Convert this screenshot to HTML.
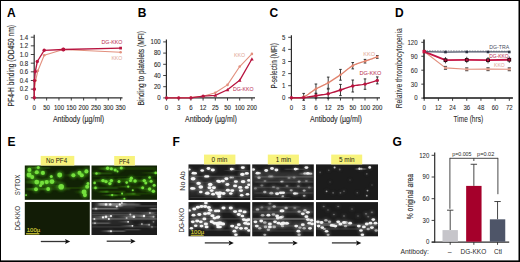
<!DOCTYPE html>
<html><head><meta charset="utf-8"><style>
html,body{margin:0;padding:0;background:#fff;}
body{width:520px;height:262px;overflow:hidden;}
svg{display:block;font-family:"Liberation Sans", sans-serif;}
</style></head><body>
<svg width="520" height="262" viewBox="0 0 520 262">
<rect x="0" y="0" width="520" height="262" fill="#fff"/>
<defs>
<filter id="b04" x="-50%" y="-50%" width="200%" height="200%"><feGaussianBlur stdDeviation="0.55"/></filter>
<filter id="b07" x="-50%" y="-50%" width="200%" height="200%"><feGaussianBlur stdDeviation="0.75"/></filter>
<filter id="b08" x="-50%" y="-50%" width="200%" height="200%"><feGaussianBlur stdDeviation="0.8"/></filter>
<filter id="b15" x="-50%" y="-50%" width="200%" height="200%"><feGaussianBlur stdDeviation="1.5"/></filter>
<linearGradient id="gG" x1="0" y1="0" x2="1" y2="0"><stop offset="0" stop-color="#3c8a16" stop-opacity="0"/><stop offset="0.7" stop-color="#3c8a16" stop-opacity="0.7"/><stop offset="1" stop-color="#58c828" stop-opacity="1"/></linearGradient>
<linearGradient id="gW" x1="0" y1="0" x2="1" y2="0"><stop offset="0" stop-color="#9a9a9a" stop-opacity="0"/><stop offset="0.7" stop-color="#a0a0a0" stop-opacity="0.75"/><stop offset="1" stop-color="#d8d8d8" stop-opacity="1"/></linearGradient>
<filter id="bh" x="-20%" y="-200%" width="140%" height="500%"><feGaussianBlur stdDeviation="1.2 0.5"/></filter>
<clipPath id="cetl"><rect x="24.8" y="165.5" width="65" height="34.3"/></clipPath>
<clipPath id="cetr"><rect x="91.5" y="165.5" width="65.5" height="34.3"/></clipPath>
<clipPath id="cebl"><rect x="24.8" y="202" width="65" height="33"/></clipPath>
<clipPath id="cebr"><rect x="91.5" y="202" width="65.5" height="33"/></clipPath>
<clipPath id="cf11"><rect x="188.5" y="164.4" width="61.8" height="35.6"/></clipPath>
<clipPath id="cf12"><rect x="252.2" y="164.4" width="61.6" height="35.6"/></clipPath>
<clipPath id="cf13"><rect x="316" y="164.4" width="62" height="35.6"/></clipPath>
<clipPath id="cf21"><rect x="188.5" y="202.1" width="61.8" height="34.2"/></clipPath>
<clipPath id="cf22"><rect x="252.2" y="202.1" width="61.6" height="34.2"/></clipPath>
<clipPath id="cf23"><rect x="316" y="202.1" width="62" height="34.2"/></clipPath>
</defs>
<rect x="24.8" y="165.5" width="65" height="34.3" fill="#112205"/>
<g clip-path="url(#cetl)" filter="url(#bh)">
<rect x="26" y="180.5" width="34" height="3" fill="#3c7a14" opacity="0.35"/>
<rect x="26" y="187.75" width="44" height="2.5" fill="#3c7a14" opacity="0.3"/>
<rect x="60" y="187" width="28" height="2" fill="#3c7a14" opacity="0.25"/>
<rect x="30" y="167" width="20" height="2" fill="#3c7a14" opacity="0.3"/>
<rect x="70" y="174.75" width="18" height="2.5" fill="#3c7a14" opacity="0.2"/>
</g>
<g clip-path="url(#cetl)" filter="url(#bh)">
<rect x="26" y="180.5" width="11" height="3.2" fill="url(#gG)" opacity="0.8"/>
<rect x="30" y="181.4" width="12" height="3" fill="url(#gG)" opacity="0.7"/>
<rect x="36" y="180.6" width="11" height="3" fill="url(#gG)" opacity="0.7"/>
<rect x="40" y="180" width="12" height="3.2" fill="url(#gG)" opacity="0.7"/>
<rect x="26" y="188" width="10" height="2.6" fill="url(#gG)" opacity="0.7"/>
<rect x="36" y="187.8" width="12" height="2.4" fill="url(#gG)" opacity="0.6"/>
<rect x="48" y="185.2" width="13" height="3" fill="url(#gG)" opacity="0.6"/>
<rect x="26" y="173.4" width="3" height="3" fill="url(#gG)" opacity="0.6"/>
<rect x="26" y="175.8" width="6" height="2.6" fill="url(#gG)" opacity="0.5"/>
<rect x="28" y="166.6" width="10" height="2" fill="url(#gG)" opacity="0.6"/>
<rect x="26" y="170.9" width="11" height="2.6" fill="url(#gG)" opacity="0.5"/>
<rect x="33" y="171.6" width="10" height="2.6" fill="url(#gG)" opacity="0.5"/>
<rect x="64" y="173.9" width="9" height="2.6" fill="url(#gG)" opacity="0.5"/>
<rect x="70" y="171.7" width="10" height="2.4" fill="url(#gG)" opacity="0.4"/>
<rect x="74" y="190.6" width="10" height="2.8" fill="url(#gG)" opacity="0.5"/>
<rect x="78" y="185.5" width="9" height="2.4" fill="url(#gG)" opacity="0.4"/>
</g>
<g clip-path="url(#cetl)">
<g filter="url(#b15)" opacity="0.8">
<ellipse cx="29.4" cy="169.9" rx="3.08" ry="3.08" fill="#3e9a18"/>
<ellipse cx="38.3" cy="167.6" rx="2.27" ry="2.27" fill="#3e9a18"/>
<ellipse cx="36.8" cy="172.2" rx="3.08" ry="3.08" fill="#3e9a18"/>
<ellipse cx="42.9" cy="172.9" rx="3.08" ry="3.08" fill="#3e9a18"/>
<ellipse cx="29.1" cy="174.9" rx="3.73" ry="3.73" fill="#3e9a18"/>
<ellipse cx="32.2" cy="177.1" rx="3.08" ry="3.08" fill="#3e9a18"/>
<ellipse cx="51.3" cy="176.4" rx="2.27" ry="2.27" fill="#3e9a18"/>
<ellipse cx="59.7" cy="174.9" rx="3.73" ry="3.73" fill="#3e9a18"/>
<ellipse cx="73.4" cy="175.2" rx="3.08" ry="3.08" fill="#3e9a18"/>
<ellipse cx="79.5" cy="172.9" rx="3.08" ry="3.08" fill="#3e9a18"/>
<ellipse cx="81.8" cy="175.2" rx="3.08" ry="3.08" fill="#3e9a18"/>
<ellipse cx="86.4" cy="171.4" rx="3.08" ry="3.08" fill="#3e9a18"/>
<ellipse cx="36.8" cy="182.1" rx="3.56" ry="3.56" fill="#3e9a18"/>
<ellipse cx="42.1" cy="182.9" rx="3.08" ry="3.08" fill="#3e9a18"/>
<ellipse cx="46.7" cy="182.1" rx="3.08" ry="3.08" fill="#3e9a18"/>
<ellipse cx="52" cy="181.6" rx="3.56" ry="3.56" fill="#3e9a18"/>
<ellipse cx="40.6" cy="185.6" rx="2.27" ry="2.27" fill="#3e9a18"/>
<ellipse cx="61.2" cy="186.7" rx="4.21" ry="4.21" fill="#3e9a18"/>
<ellipse cx="48.2" cy="189" rx="2.92" ry="2.92" fill="#3e9a18"/>
<ellipse cx="36" cy="189.3" rx="2.92" ry="2.92" fill="#3e9a18"/>
<ellipse cx="87.2" cy="186.7" rx="3.08" ry="3.08" fill="#3e9a18"/>
<ellipse cx="88" cy="183.6" rx="2.27" ry="2.27" fill="#3e9a18"/>
<ellipse cx="84.1" cy="192" rx="3.73" ry="3.73" fill="#3e9a18"/>
<ellipse cx="84.9" cy="195.1" rx="3.08" ry="3.08" fill="#3e9a18"/>
<ellipse cx="26.1" cy="195.1" rx="1.46" ry="1.46" fill="#3e9a18"/>
</g>
<g filter="url(#b07)">
<ellipse cx="29.4" cy="169.9" rx="2.05" ry="2.05" fill="#74e03c"/>
<ellipse cx="38.3" cy="167.6" rx="1.51" ry="1.51" fill="#74e03c"/>
<ellipse cx="36.8" cy="172.2" rx="2.05" ry="2.05" fill="#74e03c"/>
<ellipse cx="42.9" cy="172.9" rx="2.05" ry="2.05" fill="#74e03c"/>
<ellipse cx="29.1" cy="174.9" rx="2.48" ry="2.48" fill="#74e03c"/>
<ellipse cx="32.2" cy="177.1" rx="2.05" ry="2.05" fill="#74e03c"/>
<ellipse cx="51.3" cy="176.4" rx="1.51" ry="1.51" fill="#74e03c"/>
<ellipse cx="59.7" cy="174.9" rx="2.48" ry="2.48" fill="#74e03c"/>
<ellipse cx="73.4" cy="175.2" rx="2.05" ry="2.05" fill="#74e03c"/>
<ellipse cx="79.5" cy="172.9" rx="2.05" ry="2.05" fill="#74e03c"/>
<ellipse cx="81.8" cy="175.2" rx="2.05" ry="2.05" fill="#74e03c"/>
<ellipse cx="86.4" cy="171.4" rx="2.05" ry="2.05" fill="#74e03c"/>
<ellipse cx="36.8" cy="182.1" rx="2.38" ry="2.38" fill="#74e03c"/>
<ellipse cx="42.1" cy="182.9" rx="2.05" ry="2.05" fill="#74e03c"/>
<ellipse cx="46.7" cy="182.1" rx="2.05" ry="2.05" fill="#74e03c"/>
<ellipse cx="52" cy="181.6" rx="2.38" ry="2.38" fill="#74e03c"/>
<ellipse cx="40.6" cy="185.6" rx="1.51" ry="1.51" fill="#74e03c"/>
<ellipse cx="61.2" cy="186.7" rx="2.81" ry="2.81" fill="#74e03c"/>
<ellipse cx="48.2" cy="189" rx="1.94" ry="1.94" fill="#74e03c"/>
<ellipse cx="36" cy="189.3" rx="1.94" ry="1.94" fill="#74e03c"/>
<ellipse cx="87.2" cy="186.7" rx="2.05" ry="2.05" fill="#74e03c"/>
<ellipse cx="88" cy="183.6" rx="1.51" ry="1.51" fill="#74e03c"/>
<ellipse cx="84.1" cy="192" rx="2.48" ry="2.48" fill="#74e03c"/>
<ellipse cx="84.9" cy="195.1" rx="2.05" ry="2.05" fill="#74e03c"/>
<ellipse cx="26.1" cy="195.1" rx="0.97" ry="0.97" fill="#74e03c"/>
</g></g>
<rect x="91.5" y="165.5" width="65.5" height="34.3" fill="#112205"/>
<g clip-path="url(#cetr)" filter="url(#bh)">
<rect x="93" y="172.4" width="19" height="2" fill="#2f6e10" opacity="0.5"/>
<rect x="92" y="186.8" width="26" height="2.2" fill="#2f6e10" opacity="0.44"/>
<rect x="100" y="190.7" width="25" height="2" fill="#2f6e10" opacity="0.39"/>
<rect x="110" y="194.1" width="30" height="2" fill="#2f6e10" opacity="0.39"/>
<rect x="125" y="192.7" width="25" height="1.8" fill="#2f6e10" opacity="0.33"/>
<rect x="100" y="167.25" width="56" height="2.5" fill="#2f6e10" opacity="0.33"/>
<rect x="95" y="179.3" width="61" height="3" fill="#2f6e10" opacity="0.3"/>
<rect x="120" y="185.5" width="36" height="2" fill="#2f6e10" opacity="0.22"/>
<rect x="92" y="175.75" width="64" height="1.5" fill="#2f6e10" opacity="0.17"/>
</g>
<g clip-path="url(#cetr)" filter="url(#bh)">
<rect x="96" y="167.4" width="16" height="2.2" fill="url(#gG)" opacity="0.8"/>
<rect x="100" y="168.5" width="16" height="2" fill="url(#gG)" opacity="0.6"/>
<rect x="110" y="167.3" width="14" height="1.8" fill="url(#gG)" opacity="0.6"/>
<rect x="92" y="172.3" width="8" height="2.2" fill="url(#gG)" opacity="0.9"/>
<rect x="140" y="172.1" width="16" height="1.6" fill="url(#gG)" opacity="0.5"/>
<rect x="92" y="179.55" width="14" height="2.5" fill="url(#gG)" opacity="0.7"/>
<rect x="98" y="180.4" width="14" height="2.2" fill="url(#gG)" opacity="0.6"/>
<rect x="116" y="177.9" width="15" height="2.2" fill="url(#gG)" opacity="0.6"/>
<rect x="120" y="180.1" width="16" height="2.2" fill="url(#gG)" opacity="0.6"/>
<rect x="132" y="179.8" width="13" height="2" fill="url(#gG)" opacity="0.6"/>
<rect x="138" y="180.5" width="14" height="2" fill="url(#gG)" opacity="0.5"/>
<rect x="92" y="186.7" width="5" height="2.4" fill="url(#gG)" opacity="0.9"/>
<rect x="112" y="185.9" width="17" height="1.6" fill="url(#gG)" opacity="0.45"/>
<rect x="130" y="186.9" width="13" height="1.8" fill="url(#gG)" opacity="0.5"/>
<rect x="138" y="188.2" width="12" height="2" fill="url(#gG)" opacity="0.55"/>
<rect x="140" y="190.4" width="14" height="1.8" fill="url(#gG)" opacity="0.5"/>
<rect x="96" y="190.7" width="12" height="2" fill="url(#gG)" opacity="0.7"/>
<rect x="100" y="194.2" width="13" height="1.8" fill="url(#gG)" opacity="0.5"/>
<rect x="105" y="194.4" width="12" height="1.8" fill="url(#gG)" opacity="0.6"/>
<rect x="122" y="192.8" width="13" height="2" fill="url(#gG)" opacity="0.6"/>
<rect x="112" y="198.25" width="13" height="1.5" fill="url(#gG)" opacity="0.4"/>
</g>
<g clip-path="url(#cetr)">
<g filter="url(#b15)" opacity="0.7">
<ellipse cx="107.6" cy="168.3" rx="2.56" ry="2.56" fill="#3e9a18"/>
<ellipse cx="111.4" cy="168.8" rx="2.28" ry="2.28" fill="#3e9a18"/>
<ellipse cx="115.2" cy="169.9" rx="2.28" ry="2.28" fill="#3e9a18"/>
<ellipse cx="121.3" cy="167.9" rx="2.28" ry="2.28" fill="#3e9a18"/>
<ellipse cx="117.5" cy="171.4" rx="1.57" ry="1.57" fill="#3e9a18"/>
<ellipse cx="155.7" cy="172.9" rx="1.99" ry="1.99" fill="#3e9a18"/>
<ellipse cx="103" cy="180.6" rx="2.56" ry="2.56" fill="#3e9a18"/>
<ellipse cx="106" cy="181.6" rx="2.56" ry="2.56" fill="#3e9a18"/>
<ellipse cx="111.4" cy="180.6" rx="2.56" ry="2.56" fill="#3e9a18"/>
<ellipse cx="109.9" cy="183.6" rx="2.56" ry="2.56" fill="#3e9a18"/>
<ellipse cx="119" cy="181.6" rx="2.28" ry="2.28" fill="#3e9a18"/>
<ellipse cx="126.7" cy="182.6" rx="1.99" ry="1.99" fill="#3e9a18"/>
<ellipse cx="131.3" cy="178.3" rx="2.56" ry="2.56" fill="#3e9a18"/>
<ellipse cx="135.1" cy="181" rx="2.56" ry="2.56" fill="#3e9a18"/>
<ellipse cx="130.5" cy="180.6" rx="2.28" ry="2.28" fill="#3e9a18"/>
<ellipse cx="144.3" cy="180.6" rx="2.56" ry="2.56" fill="#3e9a18"/>
<ellipse cx="149.6" cy="177.5" rx="1.99" ry="1.99" fill="#3e9a18"/>
<ellipse cx="151.1" cy="181.3" rx="2.28" ry="2.28" fill="#3e9a18"/>
<ellipse cx="145.8" cy="182.9" rx="2.28" ry="2.28" fill="#3e9a18"/>
<ellipse cx="154.2" cy="185.2" rx="2.28" ry="2.28" fill="#3e9a18"/>
<ellipse cx="94.6" cy="182.9" rx="1.99" ry="1.99" fill="#3e9a18"/>
<ellipse cx="128.2" cy="186.7" rx="1.71" ry="1.71" fill="#3e9a18"/>
<ellipse cx="132.8" cy="190.2" rx="1.57" ry="1.57" fill="#3e9a18"/>
<ellipse cx="142.7" cy="187.8" rx="2.28" ry="2.28" fill="#3e9a18"/>
<ellipse cx="149.6" cy="189" rx="2.56" ry="2.56" fill="#3e9a18"/>
<ellipse cx="153.4" cy="191.3" rx="2.56" ry="2.56" fill="#3e9a18"/>
<ellipse cx="112.2" cy="195.1" rx="1.71" ry="1.71" fill="#3e9a18"/>
<ellipse cx="122.1" cy="193.6" rx="1.57" ry="1.57" fill="#3e9a18"/>
<ellipse cx="124.4" cy="198.9" rx="1.57" ry="1.57" fill="#3e9a18"/>
<ellipse cx="96.5" cy="173.4" rx="1.85" ry="1.85" fill="#3e9a18"/>
<ellipse cx="95.5" cy="187.9" rx="1.99" ry="1.99" fill="#3e9a18"/>
</g>
<g filter="url(#b07)">
<ellipse cx="107.6" cy="168.3" rx="1.71" ry="1.71" fill="#74e03c"/>
<ellipse cx="111.4" cy="168.8" rx="1.52" ry="1.52" fill="#74e03c"/>
<ellipse cx="115.2" cy="169.9" rx="1.52" ry="1.52" fill="#74e03c"/>
<ellipse cx="121.3" cy="167.9" rx="1.52" ry="1.52" fill="#74e03c"/>
<ellipse cx="117.5" cy="171.4" rx="1.04" ry="1.04" fill="#74e03c"/>
<ellipse cx="155.7" cy="172.9" rx="1.33" ry="1.33" fill="#74e03c"/>
<ellipse cx="103" cy="180.6" rx="1.71" ry="1.71" fill="#74e03c"/>
<ellipse cx="106" cy="181.6" rx="1.71" ry="1.71" fill="#74e03c"/>
<ellipse cx="111.4" cy="180.6" rx="1.71" ry="1.71" fill="#74e03c"/>
<ellipse cx="109.9" cy="183.6" rx="1.71" ry="1.71" fill="#74e03c"/>
<ellipse cx="119" cy="181.6" rx="1.52" ry="1.52" fill="#74e03c"/>
<ellipse cx="126.7" cy="182.6" rx="1.33" ry="1.33" fill="#74e03c"/>
<ellipse cx="131.3" cy="178.3" rx="1.71" ry="1.71" fill="#74e03c"/>
<ellipse cx="135.1" cy="181" rx="1.71" ry="1.71" fill="#74e03c"/>
<ellipse cx="130.5" cy="180.6" rx="1.52" ry="1.52" fill="#74e03c"/>
<ellipse cx="144.3" cy="180.6" rx="1.71" ry="1.71" fill="#74e03c"/>
<ellipse cx="149.6" cy="177.5" rx="1.33" ry="1.33" fill="#74e03c"/>
<ellipse cx="151.1" cy="181.3" rx="1.52" ry="1.52" fill="#74e03c"/>
<ellipse cx="145.8" cy="182.9" rx="1.52" ry="1.52" fill="#74e03c"/>
<ellipse cx="154.2" cy="185.2" rx="1.52" ry="1.52" fill="#74e03c"/>
<ellipse cx="94.6" cy="182.9" rx="1.33" ry="1.33" fill="#74e03c"/>
<ellipse cx="128.2" cy="186.7" rx="1.14" ry="1.14" fill="#74e03c"/>
<ellipse cx="132.8" cy="190.2" rx="1.04" ry="1.04" fill="#74e03c"/>
<ellipse cx="142.7" cy="187.8" rx="1.52" ry="1.52" fill="#74e03c"/>
<ellipse cx="149.6" cy="189" rx="1.71" ry="1.71" fill="#74e03c"/>
<ellipse cx="153.4" cy="191.3" rx="1.71" ry="1.71" fill="#74e03c"/>
<ellipse cx="112.2" cy="195.1" rx="1.14" ry="1.14" fill="#74e03c"/>
<ellipse cx="122.1" cy="193.6" rx="1.04" ry="1.04" fill="#74e03c"/>
<ellipse cx="124.4" cy="198.9" rx="1.04" ry="1.04" fill="#74e03c"/>
<ellipse cx="96.5" cy="173.4" rx="1.23" ry="1.23" fill="#74e03c"/>
<ellipse cx="95.5" cy="187.9" rx="1.33" ry="1.33" fill="#74e03c"/>
</g></g>
<rect x="24.8" y="202" width="65" height="33" fill="#121c06"/>
<rect x="91.5" y="202" width="65.5" height="33" fill="#1d1d1d"/>
<g clip-path="url(#cebr)" filter="url(#bh)">
<rect x="99" y="203" width="27" height="2.6" fill="#8c8c8c" opacity="0.85"/>
<rect x="126" y="203.5" width="14" height="2" fill="#8c8c8c" opacity="0.45"/>
<rect x="92" y="207.9" width="26" height="1.6" fill="#8c8c8c" opacity="0.77"/>
<rect x="150" y="207.9" width="7" height="1.6" fill="#8c8c8c" opacity="0.72"/>
<rect x="92" y="213.8" width="65" height="1.4" fill="#8c8c8c" opacity="0.32"/>
<rect x="92" y="218" width="65" height="1.8" fill="#8c8c8c" opacity="0.45"/>
<rect x="92" y="222.5" width="18" height="1.4" fill="#8c8c8c" opacity="0.54"/>
<rect x="92" y="226.3" width="65" height="1.2" fill="#8c8c8c" opacity="0.27"/>
<rect x="108" y="230.4" width="17" height="1.6" fill="#8c8c8c" opacity="0.5"/>
<rect x="125" y="229.2" width="15" height="1.2" fill="#8c8c8c" opacity="0.36"/>
<rect x="92" y="211.8" width="65" height="1" fill="#8c8c8c" opacity="0.27"/>
<rect x="135" y="205.3" width="22" height="1.4" fill="#8c8c8c" opacity="0.32"/>
</g>
<g clip-path="url(#cebr)" filter="url(#b15)">
<rect x="95" y="202" width="40" height="6" fill="#777" opacity="0.35"/>
<rect x="92" y="213" width="65" height="7" fill="#666" opacity="0.25"/>
<rect x="92" y="221" width="40" height="4" fill="#666" opacity="0.2"/>
</g>
<g clip-path="url(#cebr)" filter="url(#bh)">
<rect x="96" y="203.2" width="11" height="2.4" fill="url(#gW)" opacity="0.9"/>
<rect x="104" y="203.5" width="7" height="2.2" fill="url(#gW)" opacity="0.7"/>
<rect x="106" y="204.3" width="16" height="2.4" fill="url(#gW)" opacity="0.7"/>
<rect x="92" y="207.7" width="5" height="2" fill="url(#gW)" opacity="0.8"/>
<rect x="92" y="216.1" width="15" height="2.2" fill="url(#gW)" opacity="0.6"/>
<rect x="100" y="215.4" width="11" height="2" fill="url(#gW)" opacity="0.6"/>
<rect x="118" y="215.6" width="16" height="2.2" fill="url(#gW)" opacity="0.6"/>
<rect x="130" y="215.1" width="14" height="2.2" fill="url(#gW)" opacity="0.6"/>
<rect x="140" y="215.7" width="14" height="2" fill="url(#gW)" opacity="0.5"/>
<rect x="92" y="222.2" width="3" height="2" fill="url(#gW)" opacity="0.7"/>
<rect x="118" y="221" width="10" height="1.6" fill="url(#gW)" opacity="0.4"/>
<rect x="120" y="225" width="12" height="1.6" fill="url(#gW)" opacity="0.45"/>
<rect x="135" y="223.8" width="14" height="1.8" fill="url(#gW)" opacity="0.45"/>
<rect x="100" y="230.2" width="11" height="2" fill="url(#gW)" opacity="0.6"/>
<rect x="138" y="212.3" width="16" height="1.6" fill="url(#gW)" opacity="0.4"/>
</g>
<g clip-path="url(#cebr)">
<g filter="url(#b15)" opacity="0.5">
<ellipse cx="106" cy="204.4" rx="1.8" ry="1.8" fill="#8a8a8a"/>
<ellipse cx="110.3" cy="204.4" rx="1.8" ry="1.8" fill="#8a8a8a"/>
<ellipse cx="116.8" cy="206.5" rx="1.65" ry="1.65" fill="#8a8a8a"/>
<ellipse cx="119.8" cy="204.4" rx="1.65" ry="1.65" fill="#8a8a8a"/>
<ellipse cx="121.9" cy="202.9" rx="1.5" ry="1.5" fill="#8a8a8a"/>
<ellipse cx="103" cy="217.4" rx="1.65" ry="1.65" fill="#8a8a8a"/>
<ellipse cx="106" cy="216.7" rx="1.8" ry="1.8" fill="#8a8a8a"/>
<ellipse cx="111" cy="216" rx="1.65" ry="1.65" fill="#8a8a8a"/>
<ellipse cx="108.9" cy="218.9" rx="1.5" ry="1.5" fill="#8a8a8a"/>
<ellipse cx="94.4" cy="218.9" rx="1.5" ry="1.5" fill="#8a8a8a"/>
<ellipse cx="130.3" cy="214.5" rx="1.5" ry="1.5" fill="#8a8a8a"/>
<ellipse cx="133.9" cy="216.7" rx="1.95" ry="1.95" fill="#8a8a8a"/>
<ellipse cx="144" cy="216" rx="1.8" ry="1.8" fill="#8a8a8a"/>
<ellipse cx="149.9" cy="213.1" rx="1.5" ry="1.5" fill="#8a8a8a"/>
<ellipse cx="153.5" cy="216.7" rx="1.5" ry="1.5" fill="#8a8a8a"/>
<ellipse cx="126.6" cy="218.1" rx="1.5" ry="1.5" fill="#8a8a8a"/>
<ellipse cx="128.1" cy="221.8" rx="1.35" ry="1.35" fill="#8a8a8a"/>
<ellipse cx="132.4" cy="225.8" rx="1.35" ry="1.35" fill="#8a8a8a"/>
<ellipse cx="141.9" cy="224" rx="1.5" ry="1.5" fill="#8a8a8a"/>
<ellipse cx="149.1" cy="224.7" rx="1.5" ry="1.5" fill="#8a8a8a"/>
<ellipse cx="153.5" cy="221.8" rx="1.35" ry="1.35" fill="#8a8a8a"/>
<ellipse cx="152" cy="226.9" rx="1.35" ry="1.35" fill="#8a8a8a"/>
<ellipse cx="111" cy="231.2" rx="1.5" ry="1.5" fill="#8a8a8a"/>
<ellipse cx="95" cy="223.2" rx="1.35" ry="1.35" fill="#8a8a8a"/>
<ellipse cx="96" cy="208.7" rx="1.35" ry="1.35" fill="#8a8a8a"/>
</g>
<g filter="url(#b04)">
<ellipse cx="106" cy="204.4" rx="1.2" ry="1.2" fill="#f2f2f2"/>
<ellipse cx="110.3" cy="204.4" rx="1.2" ry="1.2" fill="#f2f2f2"/>
<ellipse cx="116.8" cy="206.5" rx="1.1" ry="1.1" fill="#f2f2f2"/>
<ellipse cx="119.8" cy="204.4" rx="1.1" ry="1.1" fill="#f2f2f2"/>
<ellipse cx="121.9" cy="202.9" rx="1" ry="1" fill="#f2f2f2" opacity="0.8"/>
<ellipse cx="103" cy="217.4" rx="1.1" ry="1.1" fill="#f2f2f2"/>
<ellipse cx="106" cy="216.7" rx="1.2" ry="1.2" fill="#f2f2f2"/>
<ellipse cx="111" cy="216" rx="1.1" ry="1.1" fill="#f2f2f2"/>
<ellipse cx="108.9" cy="218.9" rx="1" ry="1" fill="#f2f2f2"/>
<ellipse cx="94.4" cy="218.9" rx="1" ry="1" fill="#f2f2f2" opacity="0.8"/>
<ellipse cx="130.3" cy="214.5" rx="1" ry="1" fill="#f2f2f2" opacity="0.7"/>
<ellipse cx="133.9" cy="216.7" rx="1.3" ry="1.3" fill="#f2f2f2"/>
<ellipse cx="144" cy="216" rx="1.2" ry="1.2" fill="#f2f2f2"/>
<ellipse cx="149.9" cy="213.1" rx="1" ry="1" fill="#f2f2f2" opacity="0.6"/>
<ellipse cx="153.5" cy="216.7" rx="1" ry="1" fill="#f2f2f2" opacity="0.6"/>
<ellipse cx="126.6" cy="218.1" rx="1" ry="1" fill="#f2f2f2" opacity="0.6"/>
<ellipse cx="128.1" cy="221.8" rx="0.9" ry="0.9" fill="#f2f2f2"/>
<ellipse cx="132.4" cy="225.8" rx="0.9" ry="0.9" fill="#f2f2f2"/>
<ellipse cx="141.9" cy="224" rx="1" ry="1" fill="#f2f2f2" opacity="0.55"/>
<ellipse cx="149.1" cy="224.7" rx="1" ry="1" fill="#f2f2f2" opacity="0.55"/>
<ellipse cx="153.5" cy="221.8" rx="0.9" ry="0.9" fill="#f2f2f2" opacity="0.4"/>
<ellipse cx="152" cy="226.9" rx="0.9" ry="0.9" fill="#f2f2f2" opacity="0.4"/>
<ellipse cx="111" cy="231.2" rx="1" ry="1" fill="#f2f2f2" opacity="0.9"/>
<ellipse cx="95" cy="223.2" rx="0.9" ry="0.9" fill="#f2f2f2" opacity="0.6"/>
<ellipse cx="96" cy="208.7" rx="0.9" ry="0.9" fill="#f2f2f2" opacity="0.7"/>
</g></g>
<rect x="188.5" y="164.4" width="61.8" height="35.6" fill="#1c1c1c"/>
<rect x="252.2" y="164.4" width="61.6" height="35.6" fill="#1c1c1c"/>
<rect x="316" y="164.4" width="62" height="35.6" fill="#1c1c1c"/>
<rect x="188.5" y="202.1" width="61.8" height="34.2" fill="#1c1c1c"/>
<rect x="252.2" y="202.1" width="61.6" height="34.2" fill="#1c1c1c"/>
<rect x="316" y="202.1" width="62" height="34.2" fill="#1c1c1c"/>
<g clip-path="url(#cf11)" filter="url(#bh)">
<rect x="190" y="175.8" width="60" height="1.4" fill="#6a6a6a" opacity="0.45"/>
<rect x="190" y="181.9" width="60" height="1.2" fill="#6a6a6a" opacity="0.3"/>
<rect x="190" y="189.4" width="60" height="1.2" fill="#6a6a6a" opacity="0.3"/>
<rect x="190" y="197" width="60" height="1" fill="#6a6a6a" opacity="0.3"/>
<rect x="225" y="170" width="25" height="1" fill="#6a6a6a" opacity="0.3"/>
</g>
<g clip-path="url(#cf11)" filter="url(#b15)">
<rect x="189" y="176" width="62" height="20" fill="#4a4a4a" opacity="0.3"/>
</g>
<g clip-path="url(#cf11)">
<g filter="url(#b15)" opacity="0.55">
<ellipse cx="208.5" cy="168.5" rx="2.93" ry="2.07" fill="#9a9a9a"/>
<ellipse cx="212.8" cy="170" rx="3.12" ry="2.21" fill="#9a9a9a"/>
<ellipse cx="202.2" cy="170.5" rx="2.73" ry="1.93" fill="#9a9a9a"/>
<ellipse cx="193.5" cy="173.2" rx="2.93" ry="2.07" fill="#9a9a9a"/>
<ellipse cx="195.3" cy="173.2" rx="2.54" ry="1.79" fill="#9a9a9a"/>
<ellipse cx="189.2" cy="169.5" rx="2.34" ry="1.66" fill="#9a9a9a"/>
<ellipse cx="205.9" cy="176.4" rx="2.54" ry="1.79" fill="#9a9a9a"/>
<ellipse cx="207.8" cy="176.4" rx="2.34" ry="1.66" fill="#9a9a9a"/>
<ellipse cx="193.1" cy="178.7" rx="3.7" ry="2.62" fill="#9a9a9a"/>
<ellipse cx="198.6" cy="183.3" rx="3.51" ry="2.48" fill="#9a9a9a"/>
<ellipse cx="200.8" cy="187" rx="3.51" ry="2.48" fill="#9a9a9a"/>
<ellipse cx="192.1" cy="188.4" rx="2.93" ry="2.07" fill="#9a9a9a"/>
<ellipse cx="193.8" cy="188.4" rx="2.54" ry="1.79" fill="#9a9a9a"/>
<ellipse cx="210.2" cy="184.5" rx="3.51" ry="2.48" fill="#9a9a9a"/>
<ellipse cx="209.5" cy="187.7" rx="3.12" ry="2.21" fill="#9a9a9a"/>
<ellipse cx="213.9" cy="187.7" rx="3.12" ry="2.21" fill="#9a9a9a"/>
<ellipse cx="211.7" cy="190.6" rx="2.93" ry="2.07" fill="#9a9a9a"/>
<ellipse cx="200.8" cy="192" rx="2.73" ry="1.93" fill="#9a9a9a"/>
<ellipse cx="207.3" cy="193.2" rx="3.51" ry="2.48" fill="#9a9a9a"/>
<ellipse cx="213.1" cy="194.2" rx="2.93" ry="2.07" fill="#9a9a9a"/>
<ellipse cx="216.8" cy="192.8" rx="2.93" ry="2.07" fill="#9a9a9a"/>
<ellipse cx="218.9" cy="194.2" rx="3.51" ry="2.48" fill="#9a9a9a"/>
<ellipse cx="218.2" cy="181.1" rx="3.12" ry="2.21" fill="#9a9a9a"/>
<ellipse cx="219.7" cy="196.4" rx="2.34" ry="1.66" fill="#9a9a9a"/>
<ellipse cx="231.5" cy="169.1" rx="2.73" ry="1.93" fill="#9a9a9a"/>
<ellipse cx="233.3" cy="169.1" rx="1.95" ry="1.38" fill="#9a9a9a"/>
<ellipse cx="242.8" cy="167.6" rx="3.12" ry="2.21" fill="#9a9a9a"/>
<ellipse cx="242.4" cy="174.3" rx="3.51" ry="2.48" fill="#9a9a9a"/>
<ellipse cx="246.8" cy="173.4" rx="3.12" ry="2.21" fill="#9a9a9a"/>
<ellipse cx="230.8" cy="177.5" rx="2.15" ry="1.52" fill="#9a9a9a"/>
<ellipse cx="232.8" cy="177.5" rx="1.95" ry="1.38" fill="#9a9a9a"/>
<ellipse cx="226.4" cy="178.7" rx="3.12" ry="2.21" fill="#9a9a9a"/>
<ellipse cx="222.8" cy="181.1" rx="3.12" ry="2.21" fill="#9a9a9a"/>
<ellipse cx="219.2" cy="181.6" rx="3.12" ry="2.21" fill="#9a9a9a"/>
<ellipse cx="227.4" cy="184.5" rx="3.12" ry="2.21" fill="#9a9a9a"/>
<ellipse cx="235.9" cy="181.6" rx="3.12" ry="2.21" fill="#9a9a9a"/>
<ellipse cx="243.1" cy="181.6" rx="3.51" ry="2.48" fill="#9a9a9a"/>
<ellipse cx="235.1" cy="185.9" rx="3.12" ry="2.21" fill="#9a9a9a"/>
<ellipse cx="240.2" cy="187.4" rx="3.12" ry="2.21" fill="#9a9a9a"/>
<ellipse cx="246.8" cy="187.4" rx="3.12" ry="2.21" fill="#9a9a9a"/>
<ellipse cx="248.9" cy="180.4" rx="2.73" ry="1.93" fill="#9a9a9a"/>
<ellipse cx="248.9" cy="184.8" rx="2.73" ry="1.93" fill="#9a9a9a"/>
<ellipse cx="227.9" cy="190.3" rx="3.12" ry="2.21" fill="#9a9a9a"/>
<ellipse cx="232.2" cy="190.6" rx="3.12" ry="2.21" fill="#9a9a9a"/>
<ellipse cx="241" cy="190.6" rx="3.12" ry="2.21" fill="#9a9a9a"/>
<ellipse cx="219.9" cy="192.8" rx="3.51" ry="2.48" fill="#9a9a9a"/>
<ellipse cx="223.5" cy="193.5" rx="3.12" ry="2.21" fill="#9a9a9a"/>
<ellipse cx="230.8" cy="193.5" rx="2.73" ry="1.93" fill="#9a9a9a"/>
<ellipse cx="219.2" cy="196.7" rx="2.73" ry="1.93" fill="#9a9a9a"/>
<ellipse cx="241.7" cy="195.2" rx="2.73" ry="1.93" fill="#9a9a9a"/>
<ellipse cx="247.5" cy="194.2" rx="2.73" ry="1.93" fill="#9a9a9a"/>
</g>
<g filter="url(#b04)">
<ellipse cx="208.5" cy="168.5" rx="1.95" ry="1.38" fill="#f6f6f6"/>
<ellipse cx="212.8" cy="170" rx="2.08" ry="1.47" fill="#f6f6f6"/>
<ellipse cx="202.2" cy="170.5" rx="1.82" ry="1.29" fill="#f6f6f6"/>
<ellipse cx="193.5" cy="173.2" rx="1.95" ry="1.38" fill="#f6f6f6"/>
<ellipse cx="195.3" cy="173.2" rx="1.69" ry="1.2" fill="#f6f6f6"/>
<ellipse cx="189.2" cy="169.5" rx="1.56" ry="1.1" fill="#f6f6f6"/>
<ellipse cx="205.9" cy="176.4" rx="1.69" ry="1.2" fill="#f6f6f6"/>
<ellipse cx="207.8" cy="176.4" rx="1.56" ry="1.1" fill="#f6f6f6"/>
<ellipse cx="193.1" cy="178.7" rx="2.47" ry="1.75" fill="#f6f6f6"/>
<ellipse cx="198.6" cy="183.3" rx="2.34" ry="1.66" fill="#f6f6f6"/>
<ellipse cx="200.8" cy="187" rx="2.34" ry="1.66" fill="#f6f6f6"/>
<ellipse cx="192.1" cy="188.4" rx="1.95" ry="1.38" fill="#f6f6f6"/>
<ellipse cx="193.8" cy="188.4" rx="1.69" ry="1.2" fill="#f6f6f6"/>
<ellipse cx="210.2" cy="184.5" rx="2.34" ry="1.66" fill="#f6f6f6"/>
<ellipse cx="209.5" cy="187.7" rx="2.08" ry="1.47" fill="#f6f6f6"/>
<ellipse cx="213.9" cy="187.7" rx="2.08" ry="1.47" fill="#f6f6f6"/>
<ellipse cx="211.7" cy="190.6" rx="1.95" ry="1.38" fill="#f6f6f6"/>
<ellipse cx="200.8" cy="192" rx="1.82" ry="1.29" fill="#f6f6f6"/>
<ellipse cx="207.3" cy="193.2" rx="2.34" ry="1.66" fill="#f6f6f6"/>
<ellipse cx="213.1" cy="194.2" rx="1.95" ry="1.38" fill="#f6f6f6"/>
<ellipse cx="216.8" cy="192.8" rx="1.95" ry="1.38" fill="#f6f6f6"/>
<ellipse cx="218.9" cy="194.2" rx="2.34" ry="1.66" fill="#f6f6f6"/>
<ellipse cx="218.2" cy="181.1" rx="2.08" ry="1.47" fill="#f6f6f6"/>
<ellipse cx="219.7" cy="196.4" rx="1.56" ry="1.1" fill="#f6f6f6"/>
<ellipse cx="231.5" cy="169.1" rx="1.82" ry="1.29" fill="#f6f6f6"/>
<ellipse cx="233.3" cy="169.1" rx="1.3" ry="0.92" fill="#f6f6f6" opacity="0.7"/>
<ellipse cx="242.8" cy="167.6" rx="2.08" ry="1.47" fill="#f6f6f6"/>
<ellipse cx="242.4" cy="174.3" rx="2.34" ry="1.66" fill="#f6f6f6"/>
<ellipse cx="246.8" cy="173.4" rx="2.08" ry="1.47" fill="#f6f6f6"/>
<ellipse cx="230.8" cy="177.5" rx="1.43" ry="1.01" fill="#f6f6f6" opacity="0.7"/>
<ellipse cx="232.8" cy="177.5" rx="1.3" ry="0.92" fill="#f6f6f6" opacity="0.5"/>
<ellipse cx="226.4" cy="178.7" rx="2.08" ry="1.47" fill="#f6f6f6"/>
<ellipse cx="222.8" cy="181.1" rx="2.08" ry="1.47" fill="#f6f6f6"/>
<ellipse cx="219.2" cy="181.6" rx="2.08" ry="1.47" fill="#f6f6f6"/>
<ellipse cx="227.4" cy="184.5" rx="2.08" ry="1.47" fill="#f6f6f6"/>
<ellipse cx="235.9" cy="181.6" rx="2.08" ry="1.47" fill="#f6f6f6"/>
<ellipse cx="243.1" cy="181.6" rx="2.34" ry="1.66" fill="#f6f6f6"/>
<ellipse cx="235.1" cy="185.9" rx="2.08" ry="1.47" fill="#f6f6f6"/>
<ellipse cx="240.2" cy="187.4" rx="2.08" ry="1.47" fill="#f6f6f6"/>
<ellipse cx="246.8" cy="187.4" rx="2.08" ry="1.47" fill="#f6f6f6"/>
<ellipse cx="248.9" cy="180.4" rx="1.82" ry="1.29" fill="#f6f6f6"/>
<ellipse cx="248.9" cy="184.8" rx="1.82" ry="1.29" fill="#f6f6f6"/>
<ellipse cx="227.9" cy="190.3" rx="2.08" ry="1.47" fill="#f6f6f6"/>
<ellipse cx="232.2" cy="190.6" rx="2.08" ry="1.47" fill="#f6f6f6"/>
<ellipse cx="241" cy="190.6" rx="2.08" ry="1.47" fill="#f6f6f6"/>
<ellipse cx="219.9" cy="192.8" rx="2.34" ry="1.66" fill="#f6f6f6"/>
<ellipse cx="223.5" cy="193.5" rx="2.08" ry="1.47" fill="#f6f6f6"/>
<ellipse cx="230.8" cy="193.5" rx="1.82" ry="1.29" fill="#f6f6f6"/>
<ellipse cx="219.2" cy="196.7" rx="1.82" ry="1.29" fill="#f6f6f6"/>
<ellipse cx="241.7" cy="195.2" rx="1.82" ry="1.29" fill="#f6f6f6"/>
<ellipse cx="247.5" cy="194.2" rx="1.82" ry="1.29" fill="#f6f6f6"/>
</g></g>
<g clip-path="url(#cf12)" filter="url(#bh)">
<rect x="300" y="172.8" width="13" height="2" fill="#767676" opacity="0.7"/>
<rect x="255" y="175.9" width="58" height="1.8" fill="#767676" opacity="0.5"/>
<rect x="255" y="181.3" width="58" height="1.4" fill="#767676" opacity="0.4"/>
<rect x="255" y="186.8" width="58" height="1.4" fill="#767676" opacity="0.35"/>
<rect x="255" y="192.3" width="58" height="1.4" fill="#767676" opacity="0.35"/>
<rect x="285" y="168.7" width="20" height="1" fill="#767676" opacity="0.5"/>
<rect x="255" y="197" width="35" height="1" fill="#767676" opacity="0.3"/>
</g>
<g clip-path="url(#cf12)" filter="url(#b15)">
<rect x="252" y="172" width="62" height="10" fill="#5a5a5a" opacity="0.35"/>
<rect x="252" y="186" width="62" height="9" fill="#4a4a4a" opacity="0.3"/>
</g>
<g clip-path="url(#cf12)">
<g filter="url(#b15)" opacity="0.45">
<ellipse cx="253.2" cy="169.5" rx="2.73" ry="1.93" fill="#888"/>
<ellipse cx="266.2" cy="170.5" rx="2.93" ry="2.07" fill="#888"/>
<ellipse cx="272" cy="168.5" rx="2.93" ry="2.07" fill="#888"/>
<ellipse cx="276.4" cy="170" rx="2.93" ry="2.07" fill="#888"/>
<ellipse cx="257.5" cy="173.2" rx="2.93" ry="2.07" fill="#888"/>
<ellipse cx="259.3" cy="173.2" rx="2.34" ry="1.66" fill="#888"/>
<ellipse cx="269.9" cy="176.4" rx="2.54" ry="1.79" fill="#888"/>
<ellipse cx="271.9" cy="176.4" rx="2.34" ry="1.66" fill="#888"/>
<ellipse cx="259" cy="177.8" rx="2.54" ry="1.79" fill="#888"/>
<ellipse cx="281.5" cy="181.6" rx="1.95" ry="1.38" fill="#888"/>
<ellipse cx="261.9" cy="185.5" rx="2.34" ry="1.66" fill="#888"/>
<ellipse cx="255.4" cy="188.4" rx="2.34" ry="1.66" fill="#888"/>
<ellipse cx="273.5" cy="187" rx="2.34" ry="1.66" fill="#888"/>
<ellipse cx="277.8" cy="188.4" rx="2.34" ry="1.66" fill="#888"/>
<ellipse cx="264.8" cy="192" rx="2.54" ry="1.79" fill="#888"/>
<ellipse cx="271.3" cy="193.2" rx="2.93" ry="2.07" fill="#888"/>
<ellipse cx="277.1" cy="193.8" rx="3.12" ry="2.21" fill="#888"/>
<ellipse cx="280.8" cy="192.8" rx="2.93" ry="2.07" fill="#888"/>
<ellipse cx="282.9" cy="196.1" rx="1.95" ry="1.38" fill="#888"/>
<ellipse cx="295.5" cy="169.1" rx="2.73" ry="1.93" fill="#888"/>
<ellipse cx="297.3" cy="169.1" rx="2.15" ry="1.52" fill="#888"/>
<ellipse cx="306.4" cy="167.6" rx="2.93" ry="2.07" fill="#888"/>
<ellipse cx="307.9" cy="173.4" rx="2.93" ry="2.07" fill="#888"/>
<ellipse cx="305" cy="173.4" rx="2.54" ry="1.79" fill="#888"/>
<ellipse cx="310.5" cy="173.6" rx="2.54" ry="1.79" fill="#888"/>
<ellipse cx="294.1" cy="177.5" rx="2.34" ry="1.66" fill="#888"/>
<ellipse cx="282.5" cy="181.6" rx="2.15" ry="1.52" fill="#888"/>
<ellipse cx="299.1" cy="181.6" rx="2.34" ry="1.66" fill="#888"/>
<ellipse cx="306.4" cy="181.1" rx="2.15" ry="1.52" fill="#888"/>
<ellipse cx="298.4" cy="186.2" rx="2.15" ry="1.52" fill="#888"/>
<ellipse cx="309.3" cy="187.4" rx="2.15" ry="1.52" fill="#888"/>
<ellipse cx="283.2" cy="192.8" rx="2.73" ry="1.93" fill="#888"/>
<ellipse cx="291.2" cy="190.3" rx="2.34" ry="1.66" fill="#888"/>
<ellipse cx="294.8" cy="193.5" rx="2.73" ry="1.93" fill="#888"/>
<ellipse cx="296.8" cy="193.5" rx="2.34" ry="1.66" fill="#888"/>
<ellipse cx="304.2" cy="190.6" rx="2.34" ry="1.66" fill="#888"/>
<ellipse cx="304.2" cy="195.7" rx="2.15" ry="1.52" fill="#888"/>
<ellipse cx="282.5" cy="196.7" rx="1.95" ry="1.38" fill="#888"/>
<ellipse cx="289" cy="178" rx="2.34" ry="1.66" fill="#888"/>
<ellipse cx="265" cy="181" rx="2.15" ry="1.52" fill="#888"/>
<ellipse cx="287" cy="186" rx="2.15" ry="1.52" fill="#888"/>
</g>
<g filter="url(#b04)">
<ellipse cx="253.2" cy="169.5" rx="1.82" ry="1.29" fill="#eeeeee"/>
<ellipse cx="266.2" cy="170.5" rx="1.95" ry="1.38" fill="#eeeeee"/>
<ellipse cx="272" cy="168.5" rx="1.95" ry="1.38" fill="#eeeeee"/>
<ellipse cx="276.4" cy="170" rx="1.95" ry="1.38" fill="#eeeeee"/>
<ellipse cx="257.5" cy="173.2" rx="1.95" ry="1.38" fill="#eeeeee"/>
<ellipse cx="259.3" cy="173.2" rx="1.56" ry="1.1" fill="#eeeeee" opacity="0.8"/>
<ellipse cx="269.9" cy="176.4" rx="1.69" ry="1.2" fill="#eeeeee" opacity="0.32"/>
<ellipse cx="271.9" cy="176.4" rx="1.56" ry="1.1" fill="#eeeeee" opacity="0.32"/>
<ellipse cx="259" cy="177.8" rx="1.69" ry="1.2" fill="#eeeeee" opacity="0.62"/>
<ellipse cx="281.5" cy="181.6" rx="1.3" ry="0.92" fill="#eeeeee" opacity="0.62"/>
<ellipse cx="261.9" cy="185.5" rx="1.56" ry="1.1" fill="#eeeeee" opacity="0.32"/>
<ellipse cx="255.4" cy="188.4" rx="1.56" ry="1.1" fill="#eeeeee" opacity="0.32"/>
<ellipse cx="273.5" cy="187" rx="1.56" ry="1.1" fill="#eeeeee" opacity="0.32"/>
<ellipse cx="277.8" cy="188.4" rx="1.56" ry="1.1" fill="#eeeeee" opacity="0.32"/>
<ellipse cx="264.8" cy="192" rx="1.69" ry="1.2" fill="#eeeeee" opacity="0.62"/>
<ellipse cx="271.3" cy="193.2" rx="1.95" ry="1.38" fill="#eeeeee" opacity="0.62"/>
<ellipse cx="277.1" cy="193.8" rx="2.08" ry="1.47" fill="#eeeeee"/>
<ellipse cx="280.8" cy="192.8" rx="1.95" ry="1.38" fill="#eeeeee"/>
<ellipse cx="282.9" cy="196.1" rx="1.3" ry="0.92" fill="#eeeeee" opacity="0.62"/>
<ellipse cx="295.5" cy="169.1" rx="1.82" ry="1.29" fill="#eeeeee"/>
<ellipse cx="297.3" cy="169.1" rx="1.43" ry="1.01" fill="#eeeeee" opacity="0.7"/>
<ellipse cx="306.4" cy="167.6" rx="1.95" ry="1.38" fill="#eeeeee"/>
<ellipse cx="307.9" cy="173.4" rx="1.95" ry="1.38" fill="#eeeeee"/>
<ellipse cx="305" cy="173.4" rx="1.69" ry="1.2" fill="#eeeeee" opacity="0.7"/>
<ellipse cx="310.5" cy="173.6" rx="1.69" ry="1.2" fill="#eeeeee" opacity="0.7"/>
<ellipse cx="294.1" cy="177.5" rx="1.56" ry="1.1" fill="#eeeeee" opacity="0.32"/>
<ellipse cx="282.5" cy="181.6" rx="1.43" ry="1.01" fill="#eeeeee" opacity="0.32"/>
<ellipse cx="299.1" cy="181.6" rx="1.56" ry="1.1" fill="#eeeeee" opacity="0.62"/>
<ellipse cx="306.4" cy="181.1" rx="1.43" ry="1.01" fill="#eeeeee" opacity="0.32"/>
<ellipse cx="298.4" cy="186.2" rx="1.43" ry="1.01" fill="#eeeeee" opacity="0.32"/>
<ellipse cx="309.3" cy="187.4" rx="1.43" ry="1.01" fill="#eeeeee" opacity="0.32"/>
<ellipse cx="283.2" cy="192.8" rx="1.82" ry="1.29" fill="#eeeeee"/>
<ellipse cx="291.2" cy="190.3" rx="1.56" ry="1.1" fill="#eeeeee" opacity="0.62"/>
<ellipse cx="294.8" cy="193.5" rx="1.82" ry="1.29" fill="#eeeeee"/>
<ellipse cx="296.8" cy="193.5" rx="1.56" ry="1.1" fill="#eeeeee" opacity="0.8"/>
<ellipse cx="304.2" cy="190.6" rx="1.56" ry="1.1" fill="#eeeeee" opacity="0.62"/>
<ellipse cx="304.2" cy="195.7" rx="1.43" ry="1.01" fill="#eeeeee" opacity="0.62"/>
<ellipse cx="282.5" cy="196.7" rx="1.3" ry="0.92" fill="#eeeeee" opacity="0.32"/>
<ellipse cx="289" cy="178" rx="1.56" ry="1.1" fill="#eeeeee" opacity="0.32"/>
<ellipse cx="265" cy="181" rx="1.43" ry="1.01" fill="#eeeeee" opacity="0.32"/>
<ellipse cx="287" cy="186" rx="1.43" ry="1.01" fill="#eeeeee" opacity="0.32"/>
</g></g>
<g clip-path="url(#cf13)" filter="url(#bh)">
<rect x="356" y="168.4" width="10" height="1.2" fill="#a0a0a0" opacity="0.7"/>
</g>
<g clip-path="url(#cf13)">
<g filter="url(#b15)" opacity="0.3">
<ellipse cx="359.5" cy="168.8" rx="1.8" ry="1.8" fill="#666"/>
<ellipse cx="361.5" cy="168.8" rx="1.5" ry="1.5" fill="#666"/>
<ellipse cx="369.7" cy="167.4" rx="2.1" ry="2.1" fill="#666"/>
<ellipse cx="366.8" cy="173.9" rx="1.2" ry="1.2" fill="#666"/>
<ellipse cx="367.5" cy="190.6" rx="1.35" ry="1.35" fill="#666"/>
<ellipse cx="366.8" cy="195.7" rx="1.35" ry="1.35" fill="#666"/>
<ellipse cx="357.3" cy="192.8" rx="1.2" ry="1.2" fill="#666"/>
<ellipse cx="334.6" cy="167.4" rx="1.5" ry="1.5" fill="#666"/>
<ellipse cx="339.7" cy="169.5" rx="1.35" ry="1.35" fill="#666"/>
<ellipse cx="328.8" cy="170.3" rx="1.2" ry="1.2" fill="#666"/>
<ellipse cx="320.1" cy="172.4" rx="1.2" ry="1.2" fill="#666"/>
<ellipse cx="326.6" cy="191.3" rx="1.35" ry="1.35" fill="#666"/>
<ellipse cx="333.1" cy="192.8" rx="1.35" ry="1.35" fill="#666"/>
<ellipse cx="340.4" cy="192.8" rx="1.35" ry="1.35" fill="#666"/>
<ellipse cx="344" cy="191.3" rx="1.2" ry="1.2" fill="#666"/>
<ellipse cx="350" cy="180" rx="1.05" ry="1.05" fill="#666"/>
<ellipse cx="330" cy="182" rx="1.05" ry="1.05" fill="#666"/>
<ellipse cx="372" cy="185" rx="1.05" ry="1.05" fill="#666"/>
</g>
<g filter="url(#b04)">
<ellipse cx="359.5" cy="168.8" rx="1.2" ry="1.2" fill="#e6e6e6"/>
<ellipse cx="361.5" cy="168.8" rx="1" ry="1" fill="#e6e6e6" opacity="0.7"/>
<ellipse cx="369.7" cy="167.4" rx="1.4" ry="1.4" fill="#e6e6e6"/>
<ellipse cx="366.8" cy="173.9" rx="0.8" ry="0.8" fill="#e6e6e6" opacity="0.32"/>
<ellipse cx="367.5" cy="190.6" rx="0.9" ry="0.9" fill="#e6e6e6" opacity="0.62"/>
<ellipse cx="366.8" cy="195.7" rx="0.9" ry="0.9" fill="#e6e6e6" opacity="0.62"/>
<ellipse cx="357.3" cy="192.8" rx="0.8" ry="0.8" fill="#e6e6e6" opacity="0.32"/>
<ellipse cx="334.6" cy="167.4" rx="1" ry="1" fill="#e6e6e6" opacity="0.8"/>
<ellipse cx="339.7" cy="169.5" rx="0.9" ry="0.9" fill="#e6e6e6" opacity="0.32"/>
<ellipse cx="328.8" cy="170.3" rx="0.8" ry="0.8" fill="#e6e6e6" opacity="0.32"/>
<ellipse cx="320.1" cy="172.4" rx="0.8" ry="0.8" fill="#e6e6e6" opacity="0.32"/>
<ellipse cx="326.6" cy="191.3" rx="0.9" ry="0.9" fill="#e6e6e6" opacity="0.62"/>
<ellipse cx="333.1" cy="192.8" rx="0.9" ry="0.9" fill="#e6e6e6" opacity="0.32"/>
<ellipse cx="340.4" cy="192.8" rx="0.9" ry="0.9" fill="#e6e6e6" opacity="0.32"/>
<ellipse cx="344" cy="191.3" rx="0.8" ry="0.8" fill="#e6e6e6" opacity="0.32"/>
<ellipse cx="350" cy="180" rx="0.7" ry="0.7" fill="#e6e6e6" opacity="0.2"/>
<ellipse cx="330" cy="182" rx="0.7" ry="0.7" fill="#e6e6e6" opacity="0.2"/>
<ellipse cx="372" cy="185" rx="0.7" ry="0.7" fill="#e6e6e6" opacity="0.25"/>
</g></g>
<g clip-path="url(#cf21)" filter="url(#bh)">
<rect x="190" y="218.05" width="60" height="1.5" fill="#6a6a6a" opacity="0.45"/>
<rect x="190" y="211.4" width="60" height="1.2" fill="#6a6a6a" opacity="0.3"/>
<rect x="205" y="229.4" width="45" height="1.2" fill="#6a6a6a" opacity="0.3"/>
</g>
<g clip-path="url(#cf21)">
<g filter="url(#b15)" opacity="0.6">
<ellipse cx="205.9" cy="202.9" rx="2.73" ry="1.93" fill="#a0a0a0"/>
<ellipse cx="194.3" cy="209" rx="3.12" ry="2.21" fill="#a0a0a0"/>
<ellipse cx="197.9" cy="207.3" rx="3.12" ry="2.21" fill="#a0a0a0"/>
<ellipse cx="201.5" cy="206.5" rx="3.12" ry="2.21" fill="#a0a0a0"/>
<ellipse cx="205.1" cy="206.5" rx="3.12" ry="2.21" fill="#a0a0a0"/>
<ellipse cx="208.8" cy="207.5" rx="3.12" ry="2.21" fill="#a0a0a0"/>
<ellipse cx="210.2" cy="210.2" rx="3.12" ry="2.21" fill="#a0a0a0"/>
<ellipse cx="216" cy="210.9" rx="3.12" ry="2.21" fill="#a0a0a0"/>
<ellipse cx="189.2" cy="210.4" rx="2.54" ry="1.79" fill="#a0a0a0"/>
<ellipse cx="193.5" cy="215.2" rx="2.93" ry="2.07" fill="#a0a0a0"/>
<ellipse cx="199.3" cy="214.5" rx="3.12" ry="2.21" fill="#a0a0a0"/>
<ellipse cx="205.1" cy="213.8" rx="3.12" ry="2.21" fill="#a0a0a0"/>
<ellipse cx="208.8" cy="213.4" rx="3.12" ry="2.21" fill="#a0a0a0"/>
<ellipse cx="212.4" cy="215.7" rx="3.12" ry="2.21" fill="#a0a0a0"/>
<ellipse cx="214.6" cy="218.1" rx="3.12" ry="2.21" fill="#a0a0a0"/>
<ellipse cx="217.5" cy="217.4" rx="3.12" ry="2.21" fill="#a0a0a0"/>
<ellipse cx="204.4" cy="218.9" rx="2.93" ry="2.07" fill="#a0a0a0"/>
<ellipse cx="192.8" cy="221.8" rx="2.93" ry="2.07" fill="#a0a0a0"/>
<ellipse cx="197.2" cy="221" rx="3.12" ry="2.21" fill="#a0a0a0"/>
<ellipse cx="200.8" cy="221.8" rx="2.93" ry="2.07" fill="#a0a0a0"/>
<ellipse cx="205.9" cy="224" rx="3.12" ry="2.21" fill="#a0a0a0"/>
<ellipse cx="211.7" cy="221.8" rx="3.12" ry="2.21" fill="#a0a0a0"/>
<ellipse cx="214.6" cy="223.2" rx="3.12" ry="2.21" fill="#a0a0a0"/>
<ellipse cx="217.5" cy="223.2" rx="3.12" ry="2.21" fill="#a0a0a0"/>
<ellipse cx="195.7" cy="225.8" rx="2.73" ry="1.93" fill="#a0a0a0"/>
<ellipse cx="201.5" cy="226.1" rx="2.93" ry="2.07" fill="#a0a0a0"/>
<ellipse cx="206.6" cy="226.9" rx="2.93" ry="2.07" fill="#a0a0a0"/>
<ellipse cx="218.2" cy="226.9" rx="2.93" ry="2.07" fill="#a0a0a0"/>
<ellipse cx="191.4" cy="228.3" rx="2.54" ry="1.79" fill="#a0a0a0"/>
<ellipse cx="223.5" cy="208" rx="3.12" ry="2.21" fill="#a0a0a0"/>
<ellipse cx="230.8" cy="208" rx="3.12" ry="2.21" fill="#a0a0a0"/>
<ellipse cx="235.1" cy="211.6" rx="3.12" ry="2.21" fill="#a0a0a0"/>
<ellipse cx="240.2" cy="210.9" rx="3.12" ry="2.21" fill="#a0a0a0"/>
<ellipse cx="244.6" cy="211.9" rx="3.12" ry="2.21" fill="#a0a0a0"/>
<ellipse cx="238.8" cy="214.5" rx="2.93" ry="2.07" fill="#a0a0a0"/>
<ellipse cx="242.4" cy="216" rx="2.73" ry="1.93" fill="#a0a0a0"/>
<ellipse cx="218.5" cy="210.9" rx="2.73" ry="1.93" fill="#a0a0a0"/>
<ellipse cx="218.5" cy="216.7" rx="2.73" ry="1.93" fill="#a0a0a0"/>
<ellipse cx="219.9" cy="223.2" rx="3.9" ry="2.76" fill="#a0a0a0"/>
<ellipse cx="222.8" cy="223.9" rx="3.51" ry="2.48" fill="#a0a0a0"/>
<ellipse cx="217.7" cy="224.7" rx="3.12" ry="2.21" fill="#a0a0a0"/>
<ellipse cx="219.9" cy="226.9" rx="2.93" ry="2.07" fill="#a0a0a0"/>
<ellipse cx="243.9" cy="219.6" rx="3.12" ry="2.21" fill="#a0a0a0"/>
<ellipse cx="246.8" cy="220.3" rx="3.12" ry="2.21" fill="#a0a0a0"/>
<ellipse cx="248.9" cy="219.6" rx="3.12" ry="2.21" fill="#a0a0a0"/>
<ellipse cx="245.3" cy="223.2" rx="3.12" ry="2.21" fill="#a0a0a0"/>
<ellipse cx="248.2" cy="223.9" rx="3.12" ry="2.21" fill="#a0a0a0"/>
<ellipse cx="238.8" cy="224.7" rx="2.93" ry="2.07" fill="#a0a0a0"/>
<ellipse cx="232.2" cy="226.1" rx="3.12" ry="2.21" fill="#a0a0a0"/>
<ellipse cx="236.6" cy="227.6" rx="2.93" ry="2.07" fill="#a0a0a0"/>
<ellipse cx="241" cy="228.3" rx="2.93" ry="2.07" fill="#a0a0a0"/>
<ellipse cx="246" cy="228.3" rx="2.93" ry="2.07" fill="#a0a0a0"/>
<ellipse cx="234.4" cy="231.2" rx="2.93" ry="2.07" fill="#a0a0a0"/>
<ellipse cx="235.9" cy="234.8" rx="2.73" ry="1.93" fill="#a0a0a0"/>
<ellipse cx="248.9" cy="230.5" rx="2.73" ry="1.93" fill="#a0a0a0"/>
</g>
<g filter="url(#b04)">
<ellipse cx="205.9" cy="202.9" rx="1.82" ry="1.29" fill="#f6f6f6"/>
<ellipse cx="194.3" cy="209" rx="2.08" ry="1.47" fill="#f6f6f6"/>
<ellipse cx="197.9" cy="207.3" rx="2.08" ry="1.47" fill="#f6f6f6"/>
<ellipse cx="201.5" cy="206.5" rx="2.08" ry="1.47" fill="#f6f6f6"/>
<ellipse cx="205.1" cy="206.5" rx="2.08" ry="1.47" fill="#f6f6f6"/>
<ellipse cx="208.8" cy="207.5" rx="2.08" ry="1.47" fill="#f6f6f6"/>
<ellipse cx="210.2" cy="210.2" rx="2.08" ry="1.47" fill="#f6f6f6"/>
<ellipse cx="216" cy="210.9" rx="2.08" ry="1.47" fill="#f6f6f6"/>
<ellipse cx="189.2" cy="210.4" rx="1.69" ry="1.2" fill="#f6f6f6"/>
<ellipse cx="193.5" cy="215.2" rx="1.95" ry="1.38" fill="#f6f6f6"/>
<ellipse cx="199.3" cy="214.5" rx="2.08" ry="1.47" fill="#f6f6f6"/>
<ellipse cx="205.1" cy="213.8" rx="2.08" ry="1.47" fill="#f6f6f6"/>
<ellipse cx="208.8" cy="213.4" rx="2.08" ry="1.47" fill="#f6f6f6"/>
<ellipse cx="212.4" cy="215.7" rx="2.08" ry="1.47" fill="#f6f6f6"/>
<ellipse cx="214.6" cy="218.1" rx="2.08" ry="1.47" fill="#f6f6f6"/>
<ellipse cx="217.5" cy="217.4" rx="2.08" ry="1.47" fill="#f6f6f6"/>
<ellipse cx="204.4" cy="218.9" rx="1.95" ry="1.38" fill="#f6f6f6"/>
<ellipse cx="192.8" cy="221.8" rx="1.95" ry="1.38" fill="#f6f6f6"/>
<ellipse cx="197.2" cy="221" rx="2.08" ry="1.47" fill="#f6f6f6"/>
<ellipse cx="200.8" cy="221.8" rx="1.95" ry="1.38" fill="#f6f6f6"/>
<ellipse cx="205.9" cy="224" rx="2.08" ry="1.47" fill="#f6f6f6"/>
<ellipse cx="211.7" cy="221.8" rx="2.08" ry="1.47" fill="#f6f6f6"/>
<ellipse cx="214.6" cy="223.2" rx="2.08" ry="1.47" fill="#f6f6f6"/>
<ellipse cx="217.5" cy="223.2" rx="2.08" ry="1.47" fill="#f6f6f6"/>
<ellipse cx="195.7" cy="225.8" rx="1.82" ry="1.29" fill="#f6f6f6"/>
<ellipse cx="201.5" cy="226.1" rx="1.95" ry="1.38" fill="#f6f6f6"/>
<ellipse cx="206.6" cy="226.9" rx="1.95" ry="1.38" fill="#f6f6f6"/>
<ellipse cx="218.2" cy="226.9" rx="1.95" ry="1.38" fill="#f6f6f6"/>
<ellipse cx="191.4" cy="228.3" rx="1.69" ry="1.2" fill="#f6f6f6"/>
<ellipse cx="223.5" cy="208" rx="2.08" ry="1.47" fill="#f6f6f6"/>
<ellipse cx="230.8" cy="208" rx="2.08" ry="1.47" fill="#f6f6f6"/>
<ellipse cx="235.1" cy="211.6" rx="2.08" ry="1.47" fill="#f6f6f6"/>
<ellipse cx="240.2" cy="210.9" rx="2.08" ry="1.47" fill="#f6f6f6"/>
<ellipse cx="244.6" cy="211.9" rx="2.08" ry="1.47" fill="#f6f6f6"/>
<ellipse cx="238.8" cy="214.5" rx="1.95" ry="1.38" fill="#f6f6f6"/>
<ellipse cx="242.4" cy="216" rx="1.82" ry="1.29" fill="#f6f6f6"/>
<ellipse cx="218.5" cy="210.9" rx="1.82" ry="1.29" fill="#f6f6f6"/>
<ellipse cx="218.5" cy="216.7" rx="1.82" ry="1.29" fill="#f6f6f6"/>
<ellipse cx="219.9" cy="223.2" rx="2.6" ry="1.84" fill="#f6f6f6"/>
<ellipse cx="222.8" cy="223.9" rx="2.34" ry="1.66" fill="#f6f6f6"/>
<ellipse cx="217.7" cy="224.7" rx="2.08" ry="1.47" fill="#f6f6f6"/>
<ellipse cx="219.9" cy="226.9" rx="1.95" ry="1.38" fill="#f6f6f6"/>
<ellipse cx="243.9" cy="219.6" rx="2.08" ry="1.47" fill="#f6f6f6"/>
<ellipse cx="246.8" cy="220.3" rx="2.08" ry="1.47" fill="#f6f6f6"/>
<ellipse cx="248.9" cy="219.6" rx="2.08" ry="1.47" fill="#f6f6f6"/>
<ellipse cx="245.3" cy="223.2" rx="2.08" ry="1.47" fill="#f6f6f6"/>
<ellipse cx="248.2" cy="223.9" rx="2.08" ry="1.47" fill="#f6f6f6"/>
<ellipse cx="238.8" cy="224.7" rx="1.95" ry="1.38" fill="#f6f6f6"/>
<ellipse cx="232.2" cy="226.1" rx="2.08" ry="1.47" fill="#f6f6f6"/>
<ellipse cx="236.6" cy="227.6" rx="1.95" ry="1.38" fill="#f6f6f6"/>
<ellipse cx="241" cy="228.3" rx="1.95" ry="1.38" fill="#f6f6f6"/>
<ellipse cx="246" cy="228.3" rx="1.95" ry="1.38" fill="#f6f6f6"/>
<ellipse cx="234.4" cy="231.2" rx="1.95" ry="1.38" fill="#f6f6f6"/>
<ellipse cx="235.9" cy="234.8" rx="1.82" ry="1.29" fill="#f6f6f6"/>
<ellipse cx="248.9" cy="230.5" rx="1.82" ry="1.29" fill="#f6f6f6"/>
</g></g>
<g clip-path="url(#cf22)" filter="url(#bh)">
<rect x="252" y="217.9" width="61" height="2" fill="#7a7a7a" opacity="0.75"/>
<rect x="252" y="211.35" width="61" height="1.3" fill="#7a7a7a" opacity="0.35"/>
<rect x="252" y="225.35" width="61" height="1.3" fill="#7a7a7a" opacity="0.35"/>
<rect x="265" y="206.25" width="35" height="1.5" fill="#7a7a7a" opacity="0.4"/>
<rect x="252" y="230.5" width="61" height="1" fill="#7a7a7a" opacity="0.25"/>
</g>
<g clip-path="url(#cf22)" filter="url(#b15)">
<rect x="252" y="206" width="62" height="8" fill="#555" opacity="0.3"/>
<rect x="252" y="220" width="62" height="10" fill="#555" opacity="0.3"/>
</g>
<g clip-path="url(#cf22)">
<g filter="url(#b15)" opacity="0.5">
<ellipse cx="269.9" cy="203.6" rx="2.34" ry="1.66" fill="#8c8c8c"/>
<ellipse cx="257.5" cy="209.4" rx="2.54" ry="1.79" fill="#8c8c8c"/>
<ellipse cx="261.9" cy="207.3" rx="2.34" ry="1.66" fill="#8c8c8c"/>
<ellipse cx="274.2" cy="206.5" rx="2.54" ry="1.79" fill="#8c8c8c"/>
<ellipse cx="269.1" cy="208.7" rx="2.34" ry="1.66" fill="#8c8c8c"/>
<ellipse cx="281.5" cy="210.9" rx="2.93" ry="2.07" fill="#8c8c8c"/>
<ellipse cx="262.6" cy="215.2" rx="2.73" ry="1.93" fill="#8c8c8c"/>
<ellipse cx="268.4" cy="215.2" rx="2.93" ry="2.07" fill="#8c8c8c"/>
<ellipse cx="273.5" cy="214.5" rx="2.73" ry="1.93" fill="#8c8c8c"/>
<ellipse cx="277.1" cy="216" rx="2.93" ry="2.07" fill="#8c8c8c"/>
<ellipse cx="280.8" cy="217.4" rx="2.93" ry="2.07" fill="#8c8c8c"/>
<ellipse cx="277.8" cy="218.1" rx="2.93" ry="2.07" fill="#8c8c8c"/>
<ellipse cx="255.4" cy="221.8" rx="2.93" ry="2.07" fill="#8c8c8c"/>
<ellipse cx="261.2" cy="221" rx="2.93" ry="2.07" fill="#8c8c8c"/>
<ellipse cx="264.8" cy="222.5" rx="2.73" ry="1.93" fill="#8c8c8c"/>
<ellipse cx="269.9" cy="224" rx="2.93" ry="2.07" fill="#8c8c8c"/>
<ellipse cx="275" cy="221.8" rx="2.93" ry="2.07" fill="#8c8c8c"/>
<ellipse cx="278.6" cy="223.2" rx="2.93" ry="2.07" fill="#8c8c8c"/>
<ellipse cx="281.5" cy="224" rx="2.93" ry="2.07" fill="#8c8c8c"/>
<ellipse cx="256.8" cy="226.1" rx="2.93" ry="2.07" fill="#8c8c8c"/>
<ellipse cx="265.5" cy="226.9" rx="2.73" ry="1.93" fill="#8c8c8c"/>
<ellipse cx="269.9" cy="226.9" rx="2.93" ry="2.07" fill="#8c8c8c"/>
<ellipse cx="274.2" cy="226.9" rx="2.73" ry="1.93" fill="#8c8c8c"/>
<ellipse cx="259.7" cy="228.3" rx="2.54" ry="1.79" fill="#8c8c8c"/>
<ellipse cx="268.4" cy="229.8" rx="2.54" ry="1.79" fill="#8c8c8c"/>
<ellipse cx="264.8" cy="234.8" rx="2.34" ry="1.66" fill="#8c8c8c"/>
<ellipse cx="286.1" cy="208" rx="2.54" ry="1.79" fill="#8c8c8c"/>
<ellipse cx="294.8" cy="208" rx="2.34" ry="1.66" fill="#8c8c8c"/>
<ellipse cx="299.1" cy="211.6" rx="2.54" ry="1.79" fill="#8c8c8c"/>
<ellipse cx="302.8" cy="213.8" rx="2.93" ry="2.07" fill="#8c8c8c"/>
<ellipse cx="307.9" cy="212.3" rx="2.93" ry="2.07" fill="#8c8c8c"/>
<ellipse cx="305" cy="210.2" rx="2.54" ry="1.79" fill="#8c8c8c"/>
<ellipse cx="306.4" cy="216.7" rx="2.93" ry="2.07" fill="#8c8c8c"/>
<ellipse cx="282.5" cy="210.9" rx="2.93" ry="2.07" fill="#8c8c8c"/>
<ellipse cx="282.5" cy="216.7" rx="2.54" ry="1.79" fill="#8c8c8c"/>
<ellipse cx="283.2" cy="223.2" rx="3.7" ry="2.62" fill="#8c8c8c"/>
<ellipse cx="286.8" cy="223.2" rx="3.31" ry="2.35" fill="#8c8c8c"/>
<ellipse cx="282.5" cy="226.1" rx="2.54" ry="1.79" fill="#8c8c8c"/>
<ellipse cx="307.9" cy="219.6" rx="2.93" ry="2.07" fill="#8c8c8c"/>
<ellipse cx="311.5" cy="220.3" rx="2.93" ry="2.07" fill="#8c8c8c"/>
<ellipse cx="309.3" cy="223.2" rx="2.93" ry="2.07" fill="#8c8c8c"/>
<ellipse cx="312.2" cy="223.9" rx="2.93" ry="2.07" fill="#8c8c8c"/>
<ellipse cx="302.8" cy="224.7" rx="2.93" ry="2.07" fill="#8c8c8c"/>
<ellipse cx="296.2" cy="226.1" rx="2.93" ry="2.07" fill="#8c8c8c"/>
<ellipse cx="299.9" cy="227.6" rx="2.54" ry="1.79" fill="#8c8c8c"/>
<ellipse cx="304.2" cy="228.3" rx="2.54" ry="1.79" fill="#8c8c8c"/>
<ellipse cx="310" cy="228.3" rx="2.93" ry="2.07" fill="#8c8c8c"/>
<ellipse cx="298.4" cy="231.2" rx="2.93" ry="2.07" fill="#8c8c8c"/>
<ellipse cx="299.1" cy="234.8" rx="2.54" ry="1.79" fill="#8c8c8c"/>
</g>
<g filter="url(#b04)">
<ellipse cx="269.9" cy="203.6" rx="1.56" ry="1.1" fill="#f0f0f0" opacity="0.32"/>
<ellipse cx="257.5" cy="209.4" rx="1.69" ry="1.2" fill="#f0f0f0" opacity="0.62"/>
<ellipse cx="261.9" cy="207.3" rx="1.56" ry="1.1" fill="#f0f0f0" opacity="0.32"/>
<ellipse cx="274.2" cy="206.5" rx="1.69" ry="1.2" fill="#f0f0f0" opacity="0.62"/>
<ellipse cx="269.1" cy="208.7" rx="1.56" ry="1.1" fill="#f0f0f0" opacity="0.32"/>
<ellipse cx="281.5" cy="210.9" rx="1.95" ry="1.38" fill="#f0f0f0"/>
<ellipse cx="262.6" cy="215.2" rx="1.82" ry="1.29" fill="#f0f0f0" opacity="0.62"/>
<ellipse cx="268.4" cy="215.2" rx="1.95" ry="1.38" fill="#f0f0f0"/>
<ellipse cx="273.5" cy="214.5" rx="1.82" ry="1.29" fill="#f0f0f0" opacity="0.62"/>
<ellipse cx="277.1" cy="216" rx="1.95" ry="1.38" fill="#f0f0f0"/>
<ellipse cx="280.8" cy="217.4" rx="1.95" ry="1.38" fill="#f0f0f0"/>
<ellipse cx="277.8" cy="218.1" rx="1.95" ry="1.38" fill="#f0f0f0"/>
<ellipse cx="255.4" cy="221.8" rx="1.95" ry="1.38" fill="#f0f0f0"/>
<ellipse cx="261.2" cy="221" rx="1.95" ry="1.38" fill="#f0f0f0"/>
<ellipse cx="264.8" cy="222.5" rx="1.82" ry="1.29" fill="#f0f0f0" opacity="0.62"/>
<ellipse cx="269.9" cy="224" rx="1.95" ry="1.38" fill="#f0f0f0"/>
<ellipse cx="275" cy="221.8" rx="1.95" ry="1.38" fill="#f0f0f0"/>
<ellipse cx="278.6" cy="223.2" rx="1.95" ry="1.38" fill="#f0f0f0"/>
<ellipse cx="281.5" cy="224" rx="1.95" ry="1.38" fill="#f0f0f0"/>
<ellipse cx="256.8" cy="226.1" rx="1.95" ry="1.38" fill="#f0f0f0"/>
<ellipse cx="265.5" cy="226.9" rx="1.82" ry="1.29" fill="#f0f0f0" opacity="0.62"/>
<ellipse cx="269.9" cy="226.9" rx="1.95" ry="1.38" fill="#f0f0f0"/>
<ellipse cx="274.2" cy="226.9" rx="1.82" ry="1.29" fill="#f0f0f0" opacity="0.62"/>
<ellipse cx="259.7" cy="228.3" rx="1.69" ry="1.2" fill="#f0f0f0" opacity="0.62"/>
<ellipse cx="268.4" cy="229.8" rx="1.69" ry="1.2" fill="#f0f0f0" opacity="0.62"/>
<ellipse cx="264.8" cy="234.8" rx="1.56" ry="1.1" fill="#f0f0f0" opacity="0.62"/>
<ellipse cx="286.1" cy="208" rx="1.69" ry="1.2" fill="#f0f0f0" opacity="0.62"/>
<ellipse cx="294.8" cy="208" rx="1.56" ry="1.1" fill="#f0f0f0" opacity="0.32"/>
<ellipse cx="299.1" cy="211.6" rx="1.69" ry="1.2" fill="#f0f0f0" opacity="0.62"/>
<ellipse cx="302.8" cy="213.8" rx="1.95" ry="1.38" fill="#f0f0f0"/>
<ellipse cx="307.9" cy="212.3" rx="1.95" ry="1.38" fill="#f0f0f0"/>
<ellipse cx="305" cy="210.2" rx="1.69" ry="1.2" fill="#f0f0f0" opacity="0.62"/>
<ellipse cx="306.4" cy="216.7" rx="1.95" ry="1.38" fill="#f0f0f0"/>
<ellipse cx="282.5" cy="210.9" rx="1.95" ry="1.38" fill="#f0f0f0"/>
<ellipse cx="282.5" cy="216.7" rx="1.69" ry="1.2" fill="#f0f0f0" opacity="0.62"/>
<ellipse cx="283.2" cy="223.2" rx="2.47" ry="1.75" fill="#f0f0f0"/>
<ellipse cx="286.8" cy="223.2" rx="2.21" ry="1.56" fill="#f0f0f0"/>
<ellipse cx="282.5" cy="226.1" rx="1.69" ry="1.2" fill="#f0f0f0" opacity="0.62"/>
<ellipse cx="307.9" cy="219.6" rx="1.95" ry="1.38" fill="#f0f0f0"/>
<ellipse cx="311.5" cy="220.3" rx="1.95" ry="1.38" fill="#f0f0f0"/>
<ellipse cx="309.3" cy="223.2" rx="1.95" ry="1.38" fill="#f0f0f0"/>
<ellipse cx="312.2" cy="223.9" rx="1.95" ry="1.38" fill="#f0f0f0"/>
<ellipse cx="302.8" cy="224.7" rx="1.95" ry="1.38" fill="#f0f0f0"/>
<ellipse cx="296.2" cy="226.1" rx="1.95" ry="1.38" fill="#f0f0f0"/>
<ellipse cx="299.9" cy="227.6" rx="1.69" ry="1.2" fill="#f0f0f0" opacity="0.62"/>
<ellipse cx="304.2" cy="228.3" rx="1.69" ry="1.2" fill="#f0f0f0" opacity="0.62"/>
<ellipse cx="310" cy="228.3" rx="1.95" ry="1.38" fill="#f0f0f0"/>
<ellipse cx="298.4" cy="231.2" rx="1.95" ry="1.38" fill="#f0f0f0"/>
<ellipse cx="299.1" cy="234.8" rx="1.69" ry="1.2" fill="#f0f0f0" opacity="0.62"/>
</g></g>
<g clip-path="url(#cf23)" filter="url(#bh)">
<rect x="316" y="223" width="34" height="3" fill="#7a7a7a" opacity="0.55"/>
<rect x="316" y="228.4" width="62" height="1.2" fill="#7a7a7a" opacity="0.3"/>
<rect x="345" y="223.75" width="33" height="2.5" fill="#7a7a7a" opacity="0.35"/>
</g>
<g clip-path="url(#cf23)">
<g filter="url(#b15)" opacity="0.5">
<ellipse cx="317.9" cy="221.8" rx="2.93" ry="2.07" fill="#8c8c8c"/>
<ellipse cx="321.5" cy="222.5" rx="2.93" ry="2.07" fill="#8c8c8c"/>
<ellipse cx="325.9" cy="220.3" rx="2.54" ry="1.79" fill="#8c8c8c"/>
<ellipse cx="329.5" cy="221.8" rx="2.54" ry="1.79" fill="#8c8c8c"/>
<ellipse cx="331.7" cy="225.4" rx="2.93" ry="2.07" fill="#8c8c8c"/>
<ellipse cx="333.5" cy="225.6" rx="2.73" ry="1.93" fill="#8c8c8c"/>
<ellipse cx="335.3" cy="226.1" rx="2.93" ry="2.07" fill="#8c8c8c"/>
<ellipse cx="338.2" cy="221.8" rx="2.93" ry="2.07" fill="#8c8c8c"/>
<ellipse cx="340.4" cy="224" rx="2.93" ry="2.07" fill="#8c8c8c"/>
<ellipse cx="344" cy="222.5" rx="2.93" ry="2.07" fill="#8c8c8c"/>
<ellipse cx="345.5" cy="226.1" rx="2.54" ry="1.79" fill="#8c8c8c"/>
<ellipse cx="318.6" cy="226.1" rx="2.73" ry="1.93" fill="#8c8c8c"/>
<ellipse cx="322.3" cy="227.6" rx="2.73" ry="1.93" fill="#8c8c8c"/>
<ellipse cx="326.6" cy="231.2" rx="2.73" ry="1.93" fill="#8c8c8c"/>
<ellipse cx="328.1" cy="234.8" rx="2.34" ry="1.66" fill="#8c8c8c"/>
<ellipse cx="324.4" cy="229" rx="2.34" ry="1.66" fill="#8c8c8c"/>
<ellipse cx="345.7" cy="222.5" rx="3.12" ry="2.21" fill="#8c8c8c"/>
<ellipse cx="350.1" cy="223.2" rx="2.93" ry="2.07" fill="#8c8c8c"/>
<ellipse cx="358.8" cy="226.1" rx="2.93" ry="2.07" fill="#8c8c8c"/>
<ellipse cx="363.9" cy="226.9" rx="2.93" ry="2.07" fill="#8c8c8c"/>
<ellipse cx="366.8" cy="224" rx="2.93" ry="2.07" fill="#8c8c8c"/>
<ellipse cx="370.4" cy="223.2" rx="2.93" ry="2.07" fill="#8c8c8c"/>
<ellipse cx="373.3" cy="219.6" rx="2.73" ry="1.93" fill="#8c8c8c"/>
<ellipse cx="375.5" cy="223.2" rx="2.93" ry="2.07" fill="#8c8c8c"/>
<ellipse cx="371.9" cy="227.6" rx="2.93" ry="2.07" fill="#8c8c8c"/>
<ellipse cx="368.2" cy="229" rx="2.54" ry="1.79" fill="#8c8c8c"/>
<ellipse cx="361" cy="230.5" rx="2.73" ry="1.93" fill="#8c8c8c"/>
<ellipse cx="362.4" cy="234.8" rx="2.73" ry="1.93" fill="#8c8c8c"/>
<ellipse cx="376.2" cy="230.5" rx="2.54" ry="1.79" fill="#8c8c8c"/>
<ellipse cx="323.7" cy="206.5" rx="1.56" ry="1.1" fill="#8c8c8c"/>
<ellipse cx="338.2" cy="206.5" rx="1.56" ry="1.1" fill="#8c8c8c"/>
<ellipse cx="344" cy="216" rx="1.56" ry="1.1" fill="#8c8c8c"/>
<ellipse cx="333.9" cy="214.5" rx="1.56" ry="1.1" fill="#8c8c8c"/>
<ellipse cx="366" cy="213.8" rx="1.76" ry="1.24" fill="#8c8c8c"/>
<ellipse cx="371.9" cy="212.3" rx="1.76" ry="1.24" fill="#8c8c8c"/>
<ellipse cx="368.2" cy="216.7" rx="1.56" ry="1.1" fill="#8c8c8c"/>
<ellipse cx="328" cy="210" rx="1.36" ry="0.97" fill="#8c8c8c"/>
<ellipse cx="352" cy="209" rx="1.36" ry="0.97" fill="#8c8c8c"/>
<ellipse cx="358" cy="216" rx="1.36" ry="0.97" fill="#8c8c8c"/>
</g>
<g filter="url(#b04)">
<ellipse cx="317.9" cy="221.8" rx="1.95" ry="1.38" fill="#f0f0f0"/>
<ellipse cx="321.5" cy="222.5" rx="1.95" ry="1.38" fill="#f0f0f0"/>
<ellipse cx="325.9" cy="220.3" rx="1.69" ry="1.2" fill="#f0f0f0" opacity="0.62"/>
<ellipse cx="329.5" cy="221.8" rx="1.69" ry="1.2" fill="#f0f0f0" opacity="0.62"/>
<ellipse cx="331.7" cy="225.4" rx="1.95" ry="1.38" fill="#f0f0f0"/>
<ellipse cx="333.5" cy="225.6" rx="1.82" ry="1.29" fill="#f0f0f0"/>
<ellipse cx="335.3" cy="226.1" rx="1.95" ry="1.38" fill="#f0f0f0"/>
<ellipse cx="338.2" cy="221.8" rx="1.95" ry="1.38" fill="#f0f0f0"/>
<ellipse cx="340.4" cy="224" rx="1.95" ry="1.38" fill="#f0f0f0"/>
<ellipse cx="344" cy="222.5" rx="1.95" ry="1.38" fill="#f0f0f0"/>
<ellipse cx="345.5" cy="226.1" rx="1.69" ry="1.2" fill="#f0f0f0" opacity="0.62"/>
<ellipse cx="318.6" cy="226.1" rx="1.82" ry="1.29" fill="#f0f0f0"/>
<ellipse cx="322.3" cy="227.6" rx="1.82" ry="1.29" fill="#f0f0f0"/>
<ellipse cx="326.6" cy="231.2" rx="1.82" ry="1.29" fill="#f0f0f0"/>
<ellipse cx="328.1" cy="234.8" rx="1.56" ry="1.1" fill="#f0f0f0" opacity="0.62"/>
<ellipse cx="324.4" cy="229" rx="1.56" ry="1.1" fill="#f0f0f0" opacity="0.62"/>
<ellipse cx="345.7" cy="222.5" rx="2.08" ry="1.47" fill="#f0f0f0" opacity="0.62"/>
<ellipse cx="350.1" cy="223.2" rx="1.95" ry="1.38" fill="#f0f0f0"/>
<ellipse cx="358.8" cy="226.1" rx="1.95" ry="1.38" fill="#f0f0f0"/>
<ellipse cx="363.9" cy="226.9" rx="1.95" ry="1.38" fill="#f0f0f0"/>
<ellipse cx="366.8" cy="224" rx="1.95" ry="1.38" fill="#f0f0f0"/>
<ellipse cx="370.4" cy="223.2" rx="1.95" ry="1.38" fill="#f0f0f0"/>
<ellipse cx="373.3" cy="219.6" rx="1.82" ry="1.29" fill="#f0f0f0"/>
<ellipse cx="375.5" cy="223.2" rx="1.95" ry="1.38" fill="#f0f0f0"/>
<ellipse cx="371.9" cy="227.6" rx="1.95" ry="1.38" fill="#f0f0f0"/>
<ellipse cx="368.2" cy="229" rx="1.69" ry="1.2" fill="#f0f0f0" opacity="0.62"/>
<ellipse cx="361" cy="230.5" rx="1.82" ry="1.29" fill="#f0f0f0"/>
<ellipse cx="362.4" cy="234.8" rx="1.82" ry="1.29" fill="#f0f0f0"/>
<ellipse cx="376.2" cy="230.5" rx="1.69" ry="1.2" fill="#f0f0f0" opacity="0.62"/>
<ellipse cx="323.7" cy="206.5" rx="1.04" ry="0.74" fill="#f0f0f0" opacity="0.32"/>
<ellipse cx="338.2" cy="206.5" rx="1.04" ry="0.74" fill="#f0f0f0" opacity="0.32"/>
<ellipse cx="344" cy="216" rx="1.04" ry="0.74" fill="#f0f0f0" opacity="0.32"/>
<ellipse cx="333.9" cy="214.5" rx="1.04" ry="0.74" fill="#f0f0f0" opacity="0.32"/>
<ellipse cx="366" cy="213.8" rx="1.17" ry="0.83" fill="#f0f0f0" opacity="0.32"/>
<ellipse cx="371.9" cy="212.3" rx="1.17" ry="0.83" fill="#f0f0f0" opacity="0.32"/>
<ellipse cx="368.2" cy="216.7" rx="1.04" ry="0.74" fill="#f0f0f0" opacity="0.32"/>
<ellipse cx="328" cy="210" rx="0.91" ry="0.64" fill="#f0f0f0" opacity="0.25"/>
<ellipse cx="352" cy="209" rx="0.91" ry="0.64" fill="#f0f0f0" opacity="0.25"/>
<ellipse cx="358" cy="216" rx="0.91" ry="0.64" fill="#f0f0f0" opacity="0.25"/>
</g></g>
<rect x="40.7" y="155.9" width="33.6" height="9.6" fill="#f8f37c"/>
<text x="46.1" y="163.1" font-size="6.9" fill="#1a1a10" text-anchor="start" font-weight="normal" textLength="21" lengthAdjust="spacingAndGlyphs">No PF4</text>
<rect x="114.2" y="156" width="20.7" height="9.5" fill="#f8f37c"/>
<text x="119" y="163.7" font-size="6.9" fill="#1a1a10" text-anchor="start" font-weight="normal" textLength="10.5" lengthAdjust="spacingAndGlyphs">PF4</text>
<rect x="204" y="154.6" width="31.4" height="9.8" fill="#f8f37c"/>
<text x="211.5" y="162" font-size="6.9" fill="#1a1a10" text-anchor="start" font-weight="normal" textLength="15.8" lengthAdjust="spacingAndGlyphs">0 min</text>
<rect x="267.8" y="154.6" width="31.1" height="9.8" fill="#f8f37c"/>
<text x="275.7" y="162" font-size="6.9" fill="#1a1a10" text-anchor="start" font-weight="normal" textLength="15.4" lengthAdjust="spacingAndGlyphs">1 min</text>
<rect x="331.2" y="154.6" width="31" height="9.8" fill="#f8f37c"/>
<text x="339" y="162" font-size="6.9" fill="#1a1a10" text-anchor="start" font-weight="normal" textLength="15.6" lengthAdjust="spacingAndGlyphs">5 min</text>
<text x="26.8" y="231.6" font-size="5.4" fill="#dcd33c" text-anchor="start" font-weight="normal" textLength="13.3" lengthAdjust="spacingAndGlyphs" stroke="#dcd33c" stroke-width="0.12">100µ</text>
<rect x="26.1" y="233.2" width="13.3" height="1.2" fill="#dcd33c"/>
<text x="190.8" y="233.7" font-size="5.7" fill="#dcd33c" text-anchor="start" font-weight="normal" textLength="13.3" lengthAdjust="spacingAndGlyphs" stroke="#dcd33c" stroke-width="0.12">100µ</text>
<rect x="190.7" y="234.8" width="13" height="0.9" fill="#dcd33c"/>
<text transform="translate(20.1 195.2) rotate(-90)" x="0" y="0" font-size="6.8" fill="#2a2a2a" text-anchor="start" font-weight="normal" textLength="20.5" lengthAdjust="spacingAndGlyphs">SYTOX</text>
<text transform="translate(20.3 230.6) rotate(-90)" x="0" y="0" font-size="6.8" fill="#2a2a2a" text-anchor="start" font-weight="normal" textLength="24.6" lengthAdjust="spacingAndGlyphs">DG-KKO</text>
<text transform="translate(184.9 190.7) rotate(-90)" x="0" y="0" font-size="6.8" fill="#2a2a2a" text-anchor="start" font-weight="normal" textLength="19.3" lengthAdjust="spacingAndGlyphs">No Ab</text>
<text transform="translate(184.4 232.6) rotate(-90)" x="0" y="0" font-size="6.8" fill="#2a2a2a" text-anchor="start" font-weight="normal" textLength="24.6" lengthAdjust="spacingAndGlyphs">DG-KKO</text>
<text x="7.6" y="146.3" font-size="12" fill="#000" text-anchor="start" font-weight="bold">E</text>
<text x="172.4" y="145.6" font-size="12" fill="#000" text-anchor="start" font-weight="bold">F</text>
<line x1="40.8" y1="241.5" x2="66" y2="241.5" stroke="#333" stroke-width="1.3"/>
<path d="M65 239 L70.2 241.5 L65 244 L66 241.5 Z" fill="#111"/>
<line x1="106.7" y1="241.2" x2="131.4" y2="241.2" stroke="#333" stroke-width="1.3"/>
<path d="M130.4 238.7 L135.6 241.2 L130.4 243.7 L131.4 241.2 Z" fill="#111"/>
<line x1="204.8" y1="242.9" x2="229.6" y2="242.9" stroke="#333" stroke-width="1.3"/>
<path d="M228.6 240.4 L233.8 242.9 L228.6 245.4 L229.6 242.9 Z" fill="#111"/>
<line x1="268.4" y1="242.9" x2="293.6" y2="242.9" stroke="#333" stroke-width="1.3"/>
<path d="M292.6 240.4 L297.8 242.9 L292.6 245.4 L293.6 242.9 Z" fill="#111"/>
<line x1="331.9" y1="242.9" x2="357.1" y2="242.9" stroke="#333" stroke-width="1.3"/>
<path d="M356.1 240.4 L361.3 242.9 L356.1 245.4 L357.1 242.9 Z" fill="#111"/>
<text x="7" y="16.6" font-size="12" fill="#000" text-anchor="start" font-weight="bold">A</text>
<line x1="34.2" y1="34.8" x2="34.2" y2="98.3" stroke="#2c2c2c" stroke-width="1.2"/>
<line x1="33.6" y1="97.8" x2="122.5" y2="97.8" stroke="#2c2c2c" stroke-width="1.2"/>
<line x1="30.8" y1="97.8" x2="34.2" y2="97.8" stroke="#2c2c2c" stroke-width="0.9"/>
<text x="28.1" y="100.15" font-size="6.6" fill="#2a2a2a" text-anchor="end" font-weight="normal" textLength="3.38" lengthAdjust="spacingAndGlyphs" stroke="#2a2a2a" stroke-width="0.1">0</text>
<line x1="30.8" y1="89.14" x2="34.2" y2="89.14" stroke="#2c2c2c" stroke-width="0.9"/>
<text x="28.1" y="91.49" font-size="6.6" fill="#2a2a2a" text-anchor="end" font-weight="normal" textLength="8.44" lengthAdjust="spacingAndGlyphs" stroke="#2a2a2a" stroke-width="0.1">0.2</text>
<line x1="30.8" y1="80.48" x2="34.2" y2="80.48" stroke="#2c2c2c" stroke-width="0.9"/>
<text x="28.1" y="82.83" font-size="6.6" fill="#2a2a2a" text-anchor="end" font-weight="normal" textLength="8.44" lengthAdjust="spacingAndGlyphs" stroke="#2a2a2a" stroke-width="0.1">0.4</text>
<line x1="30.8" y1="71.82" x2="34.2" y2="71.82" stroke="#2c2c2c" stroke-width="0.9"/>
<text x="28.1" y="74.17" font-size="6.6" fill="#2a2a2a" text-anchor="end" font-weight="normal" textLength="8.44" lengthAdjust="spacingAndGlyphs" stroke="#2a2a2a" stroke-width="0.1">0.6</text>
<line x1="30.8" y1="63.16" x2="34.2" y2="63.16" stroke="#2c2c2c" stroke-width="0.9"/>
<text x="28.1" y="65.51" font-size="6.6" fill="#2a2a2a" text-anchor="end" font-weight="normal" textLength="8.44" lengthAdjust="spacingAndGlyphs" stroke="#2a2a2a" stroke-width="0.1">0.8</text>
<line x1="30.8" y1="54.5" x2="34.2" y2="54.5" stroke="#2c2c2c" stroke-width="0.9"/>
<text x="28.1" y="56.85" font-size="6.6" fill="#2a2a2a" text-anchor="end" font-weight="normal" textLength="8.44" lengthAdjust="spacingAndGlyphs" stroke="#2a2a2a" stroke-width="0.1">1.0</text>
<line x1="30.8" y1="45.84" x2="34.2" y2="45.84" stroke="#2c2c2c" stroke-width="0.9"/>
<text x="28.1" y="48.19" font-size="6.6" fill="#2a2a2a" text-anchor="end" font-weight="normal" textLength="8.44" lengthAdjust="spacingAndGlyphs" stroke="#2a2a2a" stroke-width="0.1">1.2</text>
<line x1="30.8" y1="37.18" x2="34.2" y2="37.18" stroke="#2c2c2c" stroke-width="0.9"/>
<text x="28.1" y="39.53" font-size="6.6" fill="#2a2a2a" text-anchor="end" font-weight="normal" textLength="8.44" lengthAdjust="spacingAndGlyphs" stroke="#2a2a2a" stroke-width="0.1">1.4</text>
<line x1="34.3" y1="97.8" x2="34.3" y2="100.5" stroke="#2c2c2c" stroke-width="0.9"/>
<text x="34.3" y="110" font-size="6.6" fill="#2a2a2a" text-anchor="middle" font-weight="normal" textLength="3.38" lengthAdjust="spacingAndGlyphs" stroke="#2a2a2a" stroke-width="0.1">0</text>
<line x1="46.63" y1="97.8" x2="46.63" y2="100.5" stroke="#2c2c2c" stroke-width="0.9"/>
<text x="46.63" y="110" font-size="6.6" fill="#2a2a2a" text-anchor="middle" font-weight="normal" textLength="6.75" lengthAdjust="spacingAndGlyphs" stroke="#2a2a2a" stroke-width="0.1">50</text>
<line x1="58.96" y1="97.8" x2="58.96" y2="100.5" stroke="#2c2c2c" stroke-width="0.9"/>
<text x="58.96" y="110" font-size="6.6" fill="#2a2a2a" text-anchor="middle" font-weight="normal" textLength="10.13" lengthAdjust="spacingAndGlyphs" stroke="#2a2a2a" stroke-width="0.1">100</text>
<line x1="71.29" y1="97.8" x2="71.29" y2="100.5" stroke="#2c2c2c" stroke-width="0.9"/>
<text x="71.29" y="110" font-size="6.6" fill="#2a2a2a" text-anchor="middle" font-weight="normal" textLength="10.13" lengthAdjust="spacingAndGlyphs" stroke="#2a2a2a" stroke-width="0.1">150</text>
<line x1="83.62" y1="97.8" x2="83.62" y2="100.5" stroke="#2c2c2c" stroke-width="0.9"/>
<text x="83.62" y="110" font-size="6.6" fill="#2a2a2a" text-anchor="middle" font-weight="normal" textLength="10.13" lengthAdjust="spacingAndGlyphs" stroke="#2a2a2a" stroke-width="0.1">200</text>
<line x1="95.95" y1="97.8" x2="95.95" y2="100.5" stroke="#2c2c2c" stroke-width="0.9"/>
<text x="95.95" y="110" font-size="6.6" fill="#2a2a2a" text-anchor="middle" font-weight="normal" textLength="10.13" lengthAdjust="spacingAndGlyphs" stroke="#2a2a2a" stroke-width="0.1">250</text>
<line x1="108.28" y1="97.8" x2="108.28" y2="100.5" stroke="#2c2c2c" stroke-width="0.9"/>
<text x="108.28" y="110" font-size="6.6" fill="#2a2a2a" text-anchor="middle" font-weight="normal" textLength="10.13" lengthAdjust="spacingAndGlyphs" stroke="#2a2a2a" stroke-width="0.1">300</text>
<line x1="120.61" y1="97.8" x2="120.61" y2="100.5" stroke="#2c2c2c" stroke-width="0.9"/>
<text x="120.61" y="110" font-size="6.6" fill="#2a2a2a" text-anchor="middle" font-weight="normal" textLength="10.13" lengthAdjust="spacingAndGlyphs" stroke="#2a2a2a" stroke-width="0.1">350</text>
<text x="52.9" y="121.9" font-size="9" fill="#2a2a2a" text-anchor="start" font-weight="normal" textLength="51.3" lengthAdjust="spacingAndGlyphs" stroke="#2a2a2a" stroke-width="0.12">Antibody (µg/ml)</text>
<text transform="translate(14.1 106.4) rotate(-90)" x="0" y="0" font-size="9" fill="#2a2a2a" text-anchor="start" font-weight="normal" textLength="81.4" lengthAdjust="spacingAndGlyphs" stroke="#2a2a2a" stroke-width="0.15">PF4-H binding (OD450 nm)</text>
<polyline points="34.3,97.8 34.6,88.5 35.6,80.5 37.9,70.7 44.2,55.3 63.3,49.5 120.6,52.2" fill="none" stroke="#e2907e" stroke-width="1.1" stroke-linejoin="round"/>
<circle cx="34.3" cy="97.8" r="1.3" fill="#e2907e"/>
<circle cx="34.6" cy="88.5" r="1.3" fill="#e2907e"/>
<circle cx="35.6" cy="80.5" r="1.3" fill="#e2907e"/>
<circle cx="37.9" cy="70.7" r="1.3" fill="#e2907e"/>
<circle cx="44.2" cy="55.3" r="1.3" fill="#e2907e"/>
<circle cx="63.3" cy="49.5" r="1.3" fill="#e2907e"/>
<circle cx="120.6" cy="52.2" r="1.3" fill="#e2907e"/>
<polyline points="34.3,97.8 34.3,89.2 34.5,80.6 35.3,71.5 37.3,61.5 44.2,50.3 63.3,49.5 120.6,48.1" fill="none" stroke="#b8143f" stroke-width="1.3" stroke-linejoin="round"/>
<circle cx="34.3" cy="97.8" r="1.7" fill="#b8143f"/>
<circle cx="34.3" cy="89.2" r="1.7" fill="#b8143f"/>
<circle cx="34.5" cy="80.6" r="1.7" fill="#b8143f"/>
<circle cx="35.3" cy="71.5" r="1.7" fill="#b8143f"/>
<circle cx="37.3" cy="61.5" r="1.7" fill="#b8143f"/>
<circle cx="44.2" cy="50.3" r="1.7" fill="#b8143f"/>
<circle cx="63.3" cy="49.5" r="1.7" fill="#b8143f"/>
<rect x="119.25" y="46.75" width="2.7" height="2.7" fill="#b8143f"/>
<circle cx="63.3" cy="49.5" r="2" fill="#b8143f"/>
<text x="101.5" y="44.1" font-size="5.4" fill="#b8284f" text-anchor="start" font-weight="normal" textLength="20.8" lengthAdjust="spacingAndGlyphs">DG-KKO</text>
<text x="111.4" y="60.2" font-size="5.4" fill="#e2a696" text-anchor="start" font-weight="normal" textLength="10.9" lengthAdjust="spacingAndGlyphs">KKO</text>
<text x="137.7" y="16.8" font-size="12" fill="#000" text-anchor="start" font-weight="bold">B</text>
<line x1="166.4" y1="39.6" x2="166.4" y2="98.4" stroke="#2c2c2c" stroke-width="1.2"/>
<line x1="165.8" y1="97.9" x2="255" y2="97.9" stroke="#2c2c2c" stroke-width="1.2"/>
<line x1="163.2" y1="97.9" x2="166.4" y2="97.9" stroke="#2c2c2c" stroke-width="0.9"/>
<text x="160.7" y="100.25" font-size="6.6" fill="#2a2a2a" text-anchor="end" font-weight="normal" textLength="3.38" lengthAdjust="spacingAndGlyphs" stroke="#2a2a2a" stroke-width="0.1">0</text>
<line x1="163.2" y1="86.7" x2="166.4" y2="86.7" stroke="#2c2c2c" stroke-width="0.9"/>
<text x="160.7" y="89.05" font-size="6.6" fill="#2a2a2a" text-anchor="end" font-weight="normal" textLength="6.75" lengthAdjust="spacingAndGlyphs" stroke="#2a2a2a" stroke-width="0.1">20</text>
<line x1="163.2" y1="75.5" x2="166.4" y2="75.5" stroke="#2c2c2c" stroke-width="0.9"/>
<text x="160.7" y="77.85" font-size="6.6" fill="#2a2a2a" text-anchor="end" font-weight="normal" textLength="6.75" lengthAdjust="spacingAndGlyphs" stroke="#2a2a2a" stroke-width="0.1">40</text>
<line x1="163.2" y1="64.3" x2="166.4" y2="64.3" stroke="#2c2c2c" stroke-width="0.9"/>
<text x="160.7" y="66.65" font-size="6.6" fill="#2a2a2a" text-anchor="end" font-weight="normal" textLength="6.75" lengthAdjust="spacingAndGlyphs" stroke="#2a2a2a" stroke-width="0.1">60</text>
<line x1="163.2" y1="53.1" x2="166.4" y2="53.1" stroke="#2c2c2c" stroke-width="0.9"/>
<text x="160.7" y="55.45" font-size="6.6" fill="#2a2a2a" text-anchor="end" font-weight="normal" textLength="6.75" lengthAdjust="spacingAndGlyphs" stroke="#2a2a2a" stroke-width="0.1">80</text>
<line x1="163.2" y1="41.9" x2="166.4" y2="41.9" stroke="#2c2c2c" stroke-width="0.9"/>
<text x="160.7" y="44.25" font-size="6.6" fill="#2a2a2a" text-anchor="end" font-weight="normal" textLength="10.13" lengthAdjust="spacingAndGlyphs" stroke="#2a2a2a" stroke-width="0.1">100</text>
<line x1="166.5" y1="97.9" x2="166.5" y2="100.6" stroke="#2c2c2c" stroke-width="0.9"/>
<text x="166.5" y="110" font-size="6.6" fill="#2a2a2a" text-anchor="middle" font-weight="normal" textLength="3.38" lengthAdjust="spacingAndGlyphs" stroke="#2a2a2a" stroke-width="0.1">0</text>
<line x1="178.7" y1="97.9" x2="178.7" y2="100.6" stroke="#2c2c2c" stroke-width="0.9"/>
<text x="178.7" y="110" font-size="6.6" fill="#2a2a2a" text-anchor="middle" font-weight="normal" textLength="3.38" lengthAdjust="spacingAndGlyphs" stroke="#2a2a2a" stroke-width="0.1">3</text>
<line x1="190.9" y1="97.9" x2="190.9" y2="100.6" stroke="#2c2c2c" stroke-width="0.9"/>
<text x="190.9" y="110" font-size="6.6" fill="#2a2a2a" text-anchor="middle" font-weight="normal" textLength="3.38" lengthAdjust="spacingAndGlyphs" stroke="#2a2a2a" stroke-width="0.1">6</text>
<line x1="203.1" y1="97.9" x2="203.1" y2="100.6" stroke="#2c2c2c" stroke-width="0.9"/>
<text x="203.1" y="110" font-size="6.6" fill="#2a2a2a" text-anchor="middle" font-weight="normal" textLength="6.75" lengthAdjust="spacingAndGlyphs" stroke="#2a2a2a" stroke-width="0.1">12</text>
<line x1="215.3" y1="97.9" x2="215.3" y2="100.6" stroke="#2c2c2c" stroke-width="0.9"/>
<text x="215.3" y="110" font-size="6.6" fill="#2a2a2a" text-anchor="middle" font-weight="normal" textLength="6.75" lengthAdjust="spacingAndGlyphs" stroke="#2a2a2a" stroke-width="0.1">25</text>
<line x1="227.5" y1="97.9" x2="227.5" y2="100.6" stroke="#2c2c2c" stroke-width="0.9"/>
<text x="227.5" y="110" font-size="6.6" fill="#2a2a2a" text-anchor="middle" font-weight="normal" textLength="6.75" lengthAdjust="spacingAndGlyphs" stroke="#2a2a2a" stroke-width="0.1">50</text>
<line x1="239.7" y1="97.9" x2="239.7" y2="100.6" stroke="#2c2c2c" stroke-width="0.9"/>
<text x="239.7" y="110" font-size="6.6" fill="#2a2a2a" text-anchor="middle" font-weight="normal" textLength="10.13" lengthAdjust="spacingAndGlyphs" stroke="#2a2a2a" stroke-width="0.1">100</text>
<line x1="251.9" y1="97.9" x2="251.9" y2="100.6" stroke="#2c2c2c" stroke-width="0.9"/>
<text x="251.9" y="110" font-size="6.6" fill="#2a2a2a" text-anchor="middle" font-weight="normal" textLength="10.13" lengthAdjust="spacingAndGlyphs" stroke="#2a2a2a" stroke-width="0.1">200</text>
<text x="185" y="122" font-size="9" fill="#2a2a2a" text-anchor="start" font-weight="normal" textLength="51.9" lengthAdjust="spacingAndGlyphs" stroke="#2a2a2a" stroke-width="0.12">Antibody (µg/ml)</text>
<text transform="translate(144.1 105.6) rotate(-90)" x="0" y="0" font-size="9" fill="#2a2a2a" text-anchor="start" font-weight="normal" textLength="74.6" lengthAdjust="spacingAndGlyphs" stroke="#2a2a2a" stroke-width="0.15">Binding to platelets (MFI)</text>
<polyline points="166.5,97.9 178.7,97.9 190.9,97.34 203.1,96.22 215.3,92.69 227.5,84.91 239.7,66.54 251.9,53.88" fill="none" stroke="#e2907e" stroke-width="1.1" stroke-linejoin="round"/>
<circle cx="166.5" cy="97.9" r="1.3" fill="#e2907e"/>
<circle cx="178.7" cy="97.9" r="1.3" fill="#e2907e"/>
<circle cx="190.9" cy="97.34" r="1.3" fill="#e2907e"/>
<circle cx="203.1" cy="96.22" r="1.3" fill="#e2907e"/>
<circle cx="215.3" cy="92.69" r="1.3" fill="#e2907e"/>
<circle cx="227.5" cy="84.91" r="1.3" fill="#e2907e"/>
<circle cx="239.7" cy="66.54" r="1.3" fill="#e2907e"/>
<circle cx="251.9" cy="53.88" r="1.3" fill="#e2907e"/>
<polyline points="166.5,97.9 178.7,97.9 190.9,97.9 203.1,96.22 215.3,95.32 227.5,89.78 239.7,80.32 251.9,58.98" fill="none" stroke="#b8143f" stroke-width="1.3" stroke-linejoin="round"/>
<circle cx="166.5" cy="97.9" r="1.6" fill="#b8143f"/>
<circle cx="178.7" cy="97.9" r="1.6" fill="#b8143f"/>
<circle cx="190.9" cy="97.9" r="1.6" fill="#b8143f"/>
<circle cx="203.1" cy="96.22" r="1.6" fill="#b8143f"/>
<path d="M213.5 96.72 L215.3 93.52 L217.1 96.72 Z" fill="#b8143f"/>
<path d="M225.7 91.18 L227.5 87.98 L229.3 91.18 Z" fill="#b8143f"/>
<path d="M237.9 81.72 L239.7 78.52 L241.5 81.72 Z" fill="#b8143f"/>
<path d="M250.1 60.38 L251.9 57.18 L253.7 60.38 Z" fill="#b8143f"/>
<text x="233.9" y="56.7" font-size="5.4" fill="#e2a696" text-anchor="start" font-weight="normal" textLength="11.1" lengthAdjust="spacingAndGlyphs">KKO</text>
<text x="232.9" y="90.7" font-size="5.4" fill="#b8284f" text-anchor="start" font-weight="normal" textLength="20.6" lengthAdjust="spacingAndGlyphs">DG-KKO</text>
<text x="269.5" y="16.8" font-size="12" fill="#000" text-anchor="start" font-weight="bold">C</text>
<line x1="291.4" y1="35.2" x2="291.4" y2="98.3" stroke="#2c2c2c" stroke-width="1.2"/>
<line x1="290.8" y1="97.8" x2="380" y2="97.8" stroke="#2c2c2c" stroke-width="1.2"/>
<line x1="288.2" y1="97.8" x2="291.4" y2="97.8" stroke="#2c2c2c" stroke-width="0.9"/>
<text x="285.4" y="100.15" font-size="6.6" fill="#2a2a2a" text-anchor="end" font-weight="normal" textLength="3.38" lengthAdjust="spacingAndGlyphs" stroke="#2a2a2a" stroke-width="0.08">0</text>
<line x1="288.2" y1="85.7" x2="291.4" y2="85.7" stroke="#2c2c2c" stroke-width="0.9"/>
<text x="285.4" y="88.05" font-size="6.6" fill="#2a2a2a" text-anchor="end" font-weight="normal" textLength="3.38" lengthAdjust="spacingAndGlyphs" stroke="#2a2a2a" stroke-width="0.08">1</text>
<line x1="288.2" y1="73.6" x2="291.4" y2="73.6" stroke="#2c2c2c" stroke-width="0.9"/>
<text x="285.4" y="75.95" font-size="6.6" fill="#2a2a2a" text-anchor="end" font-weight="normal" textLength="3.38" lengthAdjust="spacingAndGlyphs" stroke="#2a2a2a" stroke-width="0.08">2</text>
<line x1="288.2" y1="61.5" x2="291.4" y2="61.5" stroke="#2c2c2c" stroke-width="0.9"/>
<text x="285.4" y="63.85" font-size="6.6" fill="#2a2a2a" text-anchor="end" font-weight="normal" textLength="3.38" lengthAdjust="spacingAndGlyphs" stroke="#2a2a2a" stroke-width="0.08">3</text>
<line x1="288.2" y1="49.4" x2="291.4" y2="49.4" stroke="#2c2c2c" stroke-width="0.9"/>
<text x="285.4" y="51.75" font-size="6.6" fill="#2a2a2a" text-anchor="end" font-weight="normal" textLength="3.38" lengthAdjust="spacingAndGlyphs" stroke="#2a2a2a" stroke-width="0.08">4</text>
<line x1="288.2" y1="37.3" x2="291.4" y2="37.3" stroke="#2c2c2c" stroke-width="0.9"/>
<text x="285.4" y="39.65" font-size="6.6" fill="#2a2a2a" text-anchor="end" font-weight="normal" textLength="3.38" lengthAdjust="spacingAndGlyphs" stroke="#2a2a2a" stroke-width="0.08">5</text>
<line x1="291.4" y1="97.8" x2="291.4" y2="100.5" stroke="#2c2c2c" stroke-width="0.9"/>
<text x="291.4" y="110" font-size="6.6" fill="#2a2a2a" text-anchor="middle" font-weight="normal" textLength="3.38" lengthAdjust="spacingAndGlyphs" stroke="#2a2a2a" stroke-width="0.1">0</text>
<line x1="303.67" y1="97.8" x2="303.67" y2="100.5" stroke="#2c2c2c" stroke-width="0.9"/>
<text x="303.67" y="110" font-size="6.6" fill="#2a2a2a" text-anchor="middle" font-weight="normal" textLength="3.38" lengthAdjust="spacingAndGlyphs" stroke="#2a2a2a" stroke-width="0.1">3</text>
<line x1="315.94" y1="97.8" x2="315.94" y2="100.5" stroke="#2c2c2c" stroke-width="0.9"/>
<text x="315.94" y="110" font-size="6.6" fill="#2a2a2a" text-anchor="middle" font-weight="normal" textLength="3.38" lengthAdjust="spacingAndGlyphs" stroke="#2a2a2a" stroke-width="0.1">6</text>
<line x1="328.21" y1="97.8" x2="328.21" y2="100.5" stroke="#2c2c2c" stroke-width="0.9"/>
<text x="328.21" y="110" font-size="6.6" fill="#2a2a2a" text-anchor="middle" font-weight="normal" textLength="6.75" lengthAdjust="spacingAndGlyphs" stroke="#2a2a2a" stroke-width="0.1">12</text>
<line x1="340.48" y1="97.8" x2="340.48" y2="100.5" stroke="#2c2c2c" stroke-width="0.9"/>
<text x="340.48" y="110" font-size="6.6" fill="#2a2a2a" text-anchor="middle" font-weight="normal" textLength="6.75" lengthAdjust="spacingAndGlyphs" stroke="#2a2a2a" stroke-width="0.1">25</text>
<line x1="352.75" y1="97.8" x2="352.75" y2="100.5" stroke="#2c2c2c" stroke-width="0.9"/>
<text x="352.75" y="110" font-size="6.6" fill="#2a2a2a" text-anchor="middle" font-weight="normal" textLength="6.75" lengthAdjust="spacingAndGlyphs" stroke="#2a2a2a" stroke-width="0.1">50</text>
<line x1="365.02" y1="97.8" x2="365.02" y2="100.5" stroke="#2c2c2c" stroke-width="0.9"/>
<text x="365.02" y="110" font-size="6.6" fill="#2a2a2a" text-anchor="middle" font-weight="normal" textLength="10.13" lengthAdjust="spacingAndGlyphs" stroke="#2a2a2a" stroke-width="0.1">100</text>
<line x1="377.29" y1="97.8" x2="377.29" y2="100.5" stroke="#2c2c2c" stroke-width="0.9"/>
<text x="377.29" y="110" font-size="6.6" fill="#2a2a2a" text-anchor="middle" font-weight="normal" textLength="10.13" lengthAdjust="spacingAndGlyphs" stroke="#2a2a2a" stroke-width="0.1">200</text>
<text x="310" y="122" font-size="9" fill="#2a2a2a" text-anchor="start" font-weight="normal" textLength="51.9" lengthAdjust="spacingAndGlyphs" stroke="#2a2a2a" stroke-width="0.12">Antibody (µg/ml)</text>
<text transform="translate(276.8 88.6) rotate(-90)" x="0" y="0" font-size="9" fill="#2a2a2a" text-anchor="start" font-weight="normal" textLength="45.6" lengthAdjust="spacingAndGlyphs" stroke="#2a2a2a" stroke-width="0.1">P-selectin (MFI)</text>
<line x1="303.67" y1="93.4" x2="303.67" y2="100.2" stroke="#222" stroke-width="0.9"/>
<line x1="302.37" y1="93.4" x2="304.97" y2="93.4" stroke="#222" stroke-width="0.9"/>
<line x1="302.37" y1="100.2" x2="304.97" y2="100.2" stroke="#222" stroke-width="0.9"/>
<line x1="315.94" y1="84" x2="315.94" y2="93.8" stroke="#222" stroke-width="0.9"/>
<line x1="314.64" y1="84" x2="317.24" y2="84" stroke="#222" stroke-width="0.9"/>
<line x1="314.64" y1="93.8" x2="317.24" y2="93.8" stroke="#222" stroke-width="0.9"/>
<line x1="328.21" y1="77.1" x2="328.21" y2="88.3" stroke="#222" stroke-width="0.9"/>
<line x1="326.91" y1="77.1" x2="329.51" y2="77.1" stroke="#222" stroke-width="0.9"/>
<line x1="326.91" y1="88.3" x2="329.51" y2="88.3" stroke="#222" stroke-width="0.9"/>
<line x1="340.48" y1="69.4" x2="340.48" y2="80.2" stroke="#222" stroke-width="0.9"/>
<line x1="339.18" y1="69.4" x2="341.78" y2="69.4" stroke="#222" stroke-width="0.9"/>
<line x1="339.18" y1="80.2" x2="341.78" y2="80.2" stroke="#222" stroke-width="0.9"/>
<line x1="352.75" y1="62.5" x2="352.75" y2="68.9" stroke="#222" stroke-width="0.9"/>
<line x1="351.45" y1="62.5" x2="354.05" y2="62.5" stroke="#222" stroke-width="0.9"/>
<line x1="351.45" y1="68.9" x2="354.05" y2="68.9" stroke="#222" stroke-width="0.9"/>
<line x1="365.02" y1="59.4" x2="365.02" y2="63" stroke="#222" stroke-width="0.9"/>
<line x1="363.72" y1="59.4" x2="366.32" y2="59.4" stroke="#222" stroke-width="0.9"/>
<line x1="363.72" y1="63" x2="366.32" y2="63" stroke="#222" stroke-width="0.9"/>
<line x1="377.29" y1="55.5" x2="377.29" y2="58.3" stroke="#222" stroke-width="0.9"/>
<line x1="375.99" y1="55.5" x2="378.59" y2="55.5" stroke="#222" stroke-width="0.9"/>
<line x1="375.99" y1="58.3" x2="378.59" y2="58.3" stroke="#222" stroke-width="0.9"/>
<line x1="315.94" y1="93.2" x2="315.94" y2="98.2" stroke="#222" stroke-width="0.9"/>
<line x1="314.64" y1="93.2" x2="317.24" y2="93.2" stroke="#222" stroke-width="0.9"/>
<line x1="314.64" y1="98.2" x2="317.24" y2="98.2" stroke="#222" stroke-width="0.9"/>
<line x1="328.21" y1="89.1" x2="328.21" y2="98.3" stroke="#222" stroke-width="0.9"/>
<line x1="326.91" y1="89.1" x2="329.51" y2="89.1" stroke="#222" stroke-width="0.9"/>
<line x1="326.91" y1="98.3" x2="329.51" y2="98.3" stroke="#222" stroke-width="0.9"/>
<line x1="340.48" y1="84.4" x2="340.48" y2="95.6" stroke="#222" stroke-width="0.9"/>
<line x1="339.18" y1="84.4" x2="341.78" y2="84.4" stroke="#222" stroke-width="0.9"/>
<line x1="339.18" y1="95.6" x2="341.78" y2="95.6" stroke="#222" stroke-width="0.9"/>
<line x1="352.75" y1="80" x2="352.75" y2="92" stroke="#222" stroke-width="0.9"/>
<line x1="351.45" y1="80" x2="354.05" y2="80" stroke="#222" stroke-width="0.9"/>
<line x1="351.45" y1="92" x2="354.05" y2="92" stroke="#222" stroke-width="0.9"/>
<line x1="365.02" y1="78.9" x2="365.02" y2="89.3" stroke="#222" stroke-width="0.9"/>
<line x1="363.72" y1="78.9" x2="366.32" y2="78.9" stroke="#222" stroke-width="0.9"/>
<line x1="363.72" y1="89.3" x2="366.32" y2="89.3" stroke="#222" stroke-width="0.9"/>
<line x1="377.29" y1="76.9" x2="377.29" y2="83.9" stroke="#222" stroke-width="0.9"/>
<line x1="375.99" y1="76.9" x2="378.59" y2="76.9" stroke="#222" stroke-width="0.9"/>
<line x1="375.99" y1="83.9" x2="378.59" y2="83.9" stroke="#222" stroke-width="0.9"/>
<polyline points="291.4,97.8 292.35,97.77 293.6,97.78 295.1,97.8 296.77,97.79 298.53,97.72 300.31,97.56 302.05,97.26 303.67,96.8 305.2,96.13 306.74,95.27 308.27,94.27 309.8,93.17 311.34,92.04 312.87,90.92 314.41,89.85 315.94,88.9 317.47,88.06 319.01,87.27 320.54,86.53 322.07,85.8 323.61,85.07 325.14,84.33 326.68,83.54 328.21,82.7 329.74,81.8 331.28,80.87 332.81,79.91 334.34,78.93 335.88,77.93 337.41,76.9 338.95,75.86 340.48,74.8 342.01,73.69 343.55,72.5 345.08,71.27 346.61,70.04 348.15,68.83 349.68,67.68 351.22,66.63 352.75,65.7 354.28,64.92 355.82,64.25 357.35,63.67 358.88,63.15 360.42,62.67 361.95,62.2 363.49,61.72 365.02,61.2 366.64,60.62 368.38,60.01 370.16,59.38 371.92,58.77 373.59,58.19 375.09,57.67 376.34,57.23 377.29,56.9" fill="none" stroke="#e0846e" stroke-width="1.35" stroke-linejoin="round"/>
<circle cx="291.4" cy="97.8" r="1.3" fill="#e0846e"/>
<circle cx="303.67" cy="96.8" r="1.3" fill="#e0846e"/>
<circle cx="315.94" cy="88.9" r="1.3" fill="#e0846e"/>
<circle cx="328.21" cy="82.7" r="1.3" fill="#e0846e"/>
<circle cx="340.48" cy="74.8" r="1.3" fill="#e0846e"/>
<circle cx="352.75" cy="65.7" r="1.3" fill="#e0846e"/>
<circle cx="365.02" cy="61.2" r="1.3" fill="#e0846e"/>
<circle cx="377.29" cy="56.9" r="1.3" fill="#e0846e"/>
<polyline points="291.4,97.8 292.35,97.8 293.6,97.8 295.1,97.81 296.77,97.82 298.53,97.81 300.31,97.77 302.05,97.71 303.67,97.6 305.2,97.44 306.74,97.25 308.27,97.02 309.8,96.76 311.34,96.49 312.87,96.22 314.41,95.95 315.94,95.7 317.47,95.47 319.01,95.25 320.54,95.03 322.07,94.81 323.61,94.58 325.14,94.32 326.68,94.03 328.21,93.7 329.74,93.32 331.28,92.9 332.81,92.45 334.34,91.98 335.88,91.48 337.41,90.99 338.95,90.49 340.48,90 342.01,89.5 343.55,88.97 345.08,88.43 346.61,87.89 348.15,87.36 349.68,86.86 351.22,86.4 352.75,86 354.28,85.67 355.82,85.42 357.35,85.21 358.88,85.03 360.42,84.85 361.95,84.65 363.49,84.41 365.02,84.1 366.64,83.7 368.38,83.21 370.16,82.68 371.92,82.13 373.59,81.6 375.09,81.11 376.34,80.7 377.29,80.4" fill="none" stroke="#b8143f" stroke-width="1.4" stroke-linejoin="round"/>
<circle cx="291.4" cy="97.8" r="1.7" fill="#b8143f"/>
<circle cx="303.67" cy="97.6" r="1.7" fill="#b8143f"/>
<circle cx="315.94" cy="95.7" r="1.7" fill="#b8143f"/>
<circle cx="328.21" cy="93.7" r="1.7" fill="#b8143f"/>
<circle cx="340.48" cy="90" r="1.7" fill="#b8143f"/>
<circle cx="352.75" cy="86" r="1.7" fill="#b8143f"/>
<circle cx="365.02" cy="84.1" r="1.7" fill="#b8143f"/>
<circle cx="377.29" cy="80.4" r="1.7" fill="#b8143f"/>
<text x="363.2" y="56.2" font-size="5.4" fill="#e2a696" text-anchor="start" font-weight="normal" textLength="11.8" lengthAdjust="spacingAndGlyphs">KKO</text>
<text x="359.4" y="74.9" font-size="5.4" fill="#b8284f" text-anchor="start" font-weight="normal" textLength="22" lengthAdjust="spacingAndGlyphs">DG-KKO</text>
<text x="395.1" y="16.6" font-size="12" fill="#000" text-anchor="start" font-weight="bold">D</text>
<line x1="424" y1="39.5" x2="424" y2="98.7" stroke="#151515" stroke-width="1.5"/>
<line x1="423.3" y1="98.1" x2="512.9" y2="98.1" stroke="#151515" stroke-width="1.5"/>
<line x1="421.3" y1="98.1" x2="424" y2="98.1" stroke="#2c2c2c" stroke-width="0.9"/>
<text x="417.6" y="100.45" font-size="6.6" fill="#2a2a2a" text-anchor="end" font-weight="normal" textLength="3.38" lengthAdjust="spacingAndGlyphs" stroke="#2a2a2a" stroke-width="0.06">0</text>
<line x1="421.3" y1="84.15" x2="424" y2="84.15" stroke="#2c2c2c" stroke-width="0.9"/>
<text x="417.6" y="86.5" font-size="6.6" fill="#2a2a2a" text-anchor="end" font-weight="normal" textLength="6.75" lengthAdjust="spacingAndGlyphs" stroke="#2a2a2a" stroke-width="0.06">30</text>
<line x1="421.3" y1="70.2" x2="424" y2="70.2" stroke="#2c2c2c" stroke-width="0.9"/>
<text x="417.6" y="72.55" font-size="6.6" fill="#2a2a2a" text-anchor="end" font-weight="normal" textLength="6.75" lengthAdjust="spacingAndGlyphs" stroke="#2a2a2a" stroke-width="0.06">60</text>
<line x1="421.3" y1="56.25" x2="424" y2="56.25" stroke="#2c2c2c" stroke-width="0.9"/>
<text x="417.6" y="58.6" font-size="6.6" fill="#2a2a2a" text-anchor="end" font-weight="normal" textLength="6.75" lengthAdjust="spacingAndGlyphs" stroke="#2a2a2a" stroke-width="0.06">90</text>
<line x1="421.3" y1="42.3" x2="424" y2="42.3" stroke="#2c2c2c" stroke-width="0.9"/>
<text x="417.6" y="44.65" font-size="6.6" fill="#2a2a2a" text-anchor="end" font-weight="normal" textLength="10.13" lengthAdjust="spacingAndGlyphs" stroke="#2a2a2a" stroke-width="0.06">120</text>
<line x1="424.2" y1="98.1" x2="424.2" y2="100.8" stroke="#2c2c2c" stroke-width="0.9"/>
<text x="424.2" y="110.2" font-size="6.6" fill="#2a2a2a" text-anchor="middle" font-weight="normal" textLength="3.38" lengthAdjust="spacingAndGlyphs" stroke="#2a2a2a" stroke-width="0.06">0</text>
<line x1="438.38" y1="98.1" x2="438.38" y2="100.8" stroke="#2c2c2c" stroke-width="0.9"/>
<text x="438.38" y="110.2" font-size="6.6" fill="#2a2a2a" text-anchor="middle" font-weight="normal" textLength="6.75" lengthAdjust="spacingAndGlyphs" stroke="#2a2a2a" stroke-width="0.06">12</text>
<line x1="452.57" y1="98.1" x2="452.57" y2="100.8" stroke="#2c2c2c" stroke-width="0.9"/>
<text x="452.57" y="110.2" font-size="6.6" fill="#2a2a2a" text-anchor="middle" font-weight="normal" textLength="6.75" lengthAdjust="spacingAndGlyphs" stroke="#2a2a2a" stroke-width="0.06">24</text>
<line x1="466.75" y1="98.1" x2="466.75" y2="100.8" stroke="#2c2c2c" stroke-width="0.9"/>
<text x="466.75" y="110.2" font-size="6.6" fill="#2a2a2a" text-anchor="middle" font-weight="normal" textLength="6.75" lengthAdjust="spacingAndGlyphs" stroke="#2a2a2a" stroke-width="0.06">36</text>
<line x1="480.94" y1="98.1" x2="480.94" y2="100.8" stroke="#2c2c2c" stroke-width="0.9"/>
<text x="480.94" y="110.2" font-size="6.6" fill="#2a2a2a" text-anchor="middle" font-weight="normal" textLength="6.75" lengthAdjust="spacingAndGlyphs" stroke="#2a2a2a" stroke-width="0.06">48</text>
<line x1="495.12" y1="98.1" x2="495.12" y2="100.8" stroke="#2c2c2c" stroke-width="0.9"/>
<text x="495.12" y="110.2" font-size="6.6" fill="#2a2a2a" text-anchor="middle" font-weight="normal" textLength="6.75" lengthAdjust="spacingAndGlyphs" stroke="#2a2a2a" stroke-width="0.06">60</text>
<line x1="509.3" y1="98.1" x2="509.3" y2="100.8" stroke="#2c2c2c" stroke-width="0.9"/>
<text x="509.3" y="110.2" font-size="6.6" fill="#2a2a2a" text-anchor="middle" font-weight="normal" textLength="6.75" lengthAdjust="spacingAndGlyphs" stroke="#2a2a2a" stroke-width="0.06">72</text>
<text x="453.5" y="121.7" font-size="9" fill="#2a2a2a" text-anchor="start" font-weight="normal" textLength="29.6" lengthAdjust="spacingAndGlyphs" stroke="#2a2a2a" stroke-width="0.08">Time (hrs)</text>
<text transform="translate(402.4 108.3) rotate(-90)" x="0" y="0" font-size="9" fill="#2a2a2a" text-anchor="start" font-weight="normal" textLength="80.1" lengthAdjust="spacingAndGlyphs" stroke="#2a2a2a" stroke-width="0.05">Relative thrombocytopenia</text>
<polyline points="424.2,51.6 445.48,67.88 466.75,69.27 488.03,69.18 509.3,69.27" fill="none" stroke="#e2907e" stroke-width="1.2" stroke-linejoin="round"/>
<polyline points="424.2,51.6 445.48,60.2 466.75,59.97 488.03,60.2 509.3,59.74" fill="none" stroke="#c41445" stroke-width="1.8" stroke-linejoin="round"/>
<line x1="424.2" y1="50.8" x2="509.3" y2="51.17" stroke="#3c4254" stroke-width="1" stroke-dasharray="0.55 1.05"/>
<polyline points="424.2,51.6 445.48,52.06 466.75,51.97 488.03,51.97 509.3,51.97" fill="none" stroke="#4e5568" stroke-width="1.2" stroke-linejoin="round"/>
<rect x="443.98" y="66.38" width="3" height="3" fill="#e7a08e"/>
<line x1="443.88" y1="66.38" x2="447.08" y2="66.38" stroke="#333" stroke-width="0.8"/>
<line x1="443.88" y1="69.38" x2="447.08" y2="69.38" stroke="#333" stroke-width="0.8"/>
<rect x="465.25" y="67.77" width="3" height="3" fill="#e7a08e"/>
<line x1="465.15" y1="67.77" x2="468.35" y2="67.77" stroke="#333" stroke-width="0.8"/>
<line x1="465.15" y1="70.77" x2="468.35" y2="70.77" stroke="#333" stroke-width="0.8"/>
<rect x="486.53" y="67.68" width="3" height="3" fill="#e7a08e"/>
<line x1="486.43" y1="67.68" x2="489.63" y2="67.68" stroke="#333" stroke-width="0.8"/>
<line x1="486.43" y1="70.68" x2="489.63" y2="70.68" stroke="#333" stroke-width="0.8"/>
<rect x="507.8" y="67.77" width="3" height="3" fill="#e7a08e"/>
<line x1="507.7" y1="67.77" x2="510.9" y2="67.77" stroke="#333" stroke-width="0.8"/>
<line x1="507.7" y1="70.77" x2="510.9" y2="70.77" stroke="#333" stroke-width="0.8"/>
<line x1="445.48" y1="57" x2="445.48" y2="63.4" stroke="#222" stroke-width="0.8"/>
<rect x="443.63" y="58.35" width="3.7" height="3.7" fill="#1a0008"/>
<rect x="444.38" y="59.1" width="2.2" height="2.2" fill="#b8103c"/>
<line x1="466.75" y1="56.77" x2="466.75" y2="63.17" stroke="#222" stroke-width="0.8"/>
<rect x="464.9" y="58.12" width="3.7" height="3.7" fill="#1a0008"/>
<rect x="465.65" y="58.87" width="2.2" height="2.2" fill="#b8103c"/>
<line x1="488.03" y1="57" x2="488.03" y2="63.4" stroke="#222" stroke-width="0.8"/>
<rect x="486.18" y="58.35" width="3.7" height="3.7" fill="#1a0008"/>
<rect x="486.93" y="59.1" width="2.2" height="2.2" fill="#b8103c"/>
<line x1="509.3" y1="56.54" x2="509.3" y2="62.94" stroke="#222" stroke-width="0.8"/>
<rect x="507.45" y="57.89" width="3.7" height="3.7" fill="#1a0008"/>
<rect x="508.2" y="58.64" width="2.2" height="2.2" fill="#b8103c"/>
<rect x="444.18" y="50.76" width="2.6" height="2.6" fill="#2e3444"/>
<rect x="465.45" y="50.67" width="2.6" height="2.6" fill="#2e3444"/>
<rect x="486.73" y="50.67" width="2.6" height="2.6" fill="#2e3444"/>
<rect x="508" y="50.67" width="2.6" height="2.6" fill="#2e3444"/>
<rect x="422.5" y="49.9" width="3.4" height="3.4" fill="#c8103e"/>
<text x="489.3" y="48.5" font-size="5.4" fill="#474c5c" text-anchor="start" font-weight="normal" textLength="19.8" lengthAdjust="spacingAndGlyphs">DG-TRA</text>
<text x="489.3" y="57.6" font-size="5.4" fill="#b8284f" text-anchor="start" font-weight="normal" textLength="19.4" lengthAdjust="spacingAndGlyphs" paint-order="stroke">DG-KKO</text>
<text x="494" y="66.7" font-size="5.4" fill="#e2a696" text-anchor="start" font-weight="normal" textLength="10.7" lengthAdjust="spacingAndGlyphs">KKO</text>
<text x="392.4" y="146.3" font-size="12" fill="#000" text-anchor="start" font-weight="bold">G</text>
<line x1="434.7" y1="152.6" x2="434.7" y2="242.6" stroke="#2c2c2c" stroke-width="1.2"/>
<line x1="431.7" y1="242.1" x2="509.2" y2="242.1" stroke="#2c2c2c" stroke-width="1.3"/>
<line x1="431.6" y1="242.1" x2="434.7" y2="242.1" stroke="#2c2c2c" stroke-width="0.9"/>
<text x="429.3" y="244.45" font-size="6.6" fill="#2a2a2a" text-anchor="end" font-weight="normal" textLength="3.38" lengthAdjust="spacingAndGlyphs" stroke="#2a2a2a" stroke-width="0.05">0</text>
<line x1="431.6" y1="220.4" x2="434.7" y2="220.4" stroke="#2c2c2c" stroke-width="0.9"/>
<text x="429.3" y="222.75" font-size="6.6" fill="#2a2a2a" text-anchor="end" font-weight="normal" textLength="6.75" lengthAdjust="spacingAndGlyphs" stroke="#2a2a2a" stroke-width="0.05">30</text>
<line x1="431.6" y1="198.7" x2="434.7" y2="198.7" stroke="#2c2c2c" stroke-width="0.9"/>
<text x="429.3" y="201.05" font-size="6.6" fill="#2a2a2a" text-anchor="end" font-weight="normal" textLength="6.75" lengthAdjust="spacingAndGlyphs" stroke="#2a2a2a" stroke-width="0.05">60</text>
<line x1="431.6" y1="177" x2="434.7" y2="177" stroke="#2c2c2c" stroke-width="0.9"/>
<text x="429.3" y="179.35" font-size="6.6" fill="#2a2a2a" text-anchor="end" font-weight="normal" textLength="6.75" lengthAdjust="spacingAndGlyphs" stroke="#2a2a2a" stroke-width="0.05">90</text>
<line x1="431.6" y1="155.3" x2="434.7" y2="155.3" stroke="#2c2c2c" stroke-width="0.9"/>
<text x="429.3" y="157.65" font-size="6.6" fill="#2a2a2a" text-anchor="end" font-weight="normal" textLength="10.13" lengthAdjust="spacingAndGlyphs" stroke="#2a2a2a" stroke-width="0.05">120</text>
<line x1="450.2" y1="210.2" x2="450.2" y2="230.09" stroke="#333" stroke-width="0.9"/>
<line x1="447" y1="210.2" x2="453.4" y2="210.2" stroke="#333" stroke-width="0.9"/>
<rect x="442.5" y="230.09" width="15.4" height="11.61" fill="#c6c5ca"/>
<line x1="450.2" y1="242.1" x2="450.2" y2="244.8" stroke="#2c2c2c" stroke-width="0.9"/>
<line x1="473.85" y1="164.27" x2="473.85" y2="185.9" stroke="#333" stroke-width="0.9"/>
<line x1="470.65" y1="164.27" x2="477.05" y2="164.27" stroke="#333" stroke-width="0.9"/>
<rect x="466.15" y="185.9" width="15.4" height="55.8" fill="#a5002b"/>
<line x1="473.85" y1="242.1" x2="473.85" y2="244.8" stroke="#2c2c2c" stroke-width="0.9"/>
<line x1="497.55" y1="201.52" x2="497.55" y2="219.32" stroke="#333" stroke-width="0.9"/>
<line x1="494.35" y1="201.52" x2="500.75" y2="201.52" stroke="#333" stroke-width="0.9"/>
<rect x="489.85" y="219.32" width="15.4" height="22.38" fill="#4e5568"/>
<line x1="497.55" y1="242.1" x2="497.55" y2="244.8" stroke="#2c2c2c" stroke-width="0.9"/>
<line x1="449.9" y1="158.3" x2="497.9" y2="158.3" stroke="#333" stroke-width="0.9"/>
<line x1="449.9" y1="157.9" x2="449.9" y2="208.77" stroke="#333" stroke-width="0.9"/>
<line x1="497.9" y1="157.9" x2="497.9" y2="194.2" stroke="#333" stroke-width="0.9"/>
<line x1="473.85" y1="158.3" x2="473.85" y2="161" stroke="#333" stroke-width="0.9"/>
<text x="452.2" y="155.6" font-size="5.3" fill="#2a2a2a" text-anchor="start" font-weight="normal" textLength="19.3" lengthAdjust="spacingAndGlyphs">p=0.005</text>
<text x="477.1" y="155.6" font-size="5.3" fill="#2a2a2a" text-anchor="start" font-weight="normal" textLength="17.2" lengthAdjust="spacingAndGlyphs">p=0.02</text>
<text transform="translate(412.8 219.3) rotate(-90)" x="0" y="0" font-size="9" fill="#2a2a2a" text-anchor="start" font-weight="normal" textLength="45.3" lengthAdjust="spacingAndGlyphs" stroke="#2a2a2a" stroke-width="0.15">% original area</text>
<text x="400.6" y="254" font-size="7" fill="#2a2a2a" text-anchor="start" font-weight="normal" textLength="28.2" lengthAdjust="spacingAndGlyphs">Antibody:</text>
<text x="449.8" y="254" font-size="7" fill="#2a2a2a" text-anchor="middle" font-weight="normal">–</text>
<text x="460.6" y="254" font-size="7" fill="#2a2a2a" text-anchor="start" font-weight="normal" textLength="25.7" lengthAdjust="spacingAndGlyphs">DG-KKO</text>
<text x="494.1" y="254" font-size="7" fill="#2a2a2a" text-anchor="start" font-weight="normal" textLength="7.9" lengthAdjust="spacingAndGlyphs">Ctl</text>
<rect x="0" y="0" width="520" height="1" fill="#000"/>
<rect x="0" y="0" width="1" height="262" fill="#000"/>
<rect x="518.5" y="0" width="1.5" height="262" fill="#000"/>
<rect x="0" y="260.4" width="520" height="1.6" fill="#000"/>
</svg>
</body></html>
